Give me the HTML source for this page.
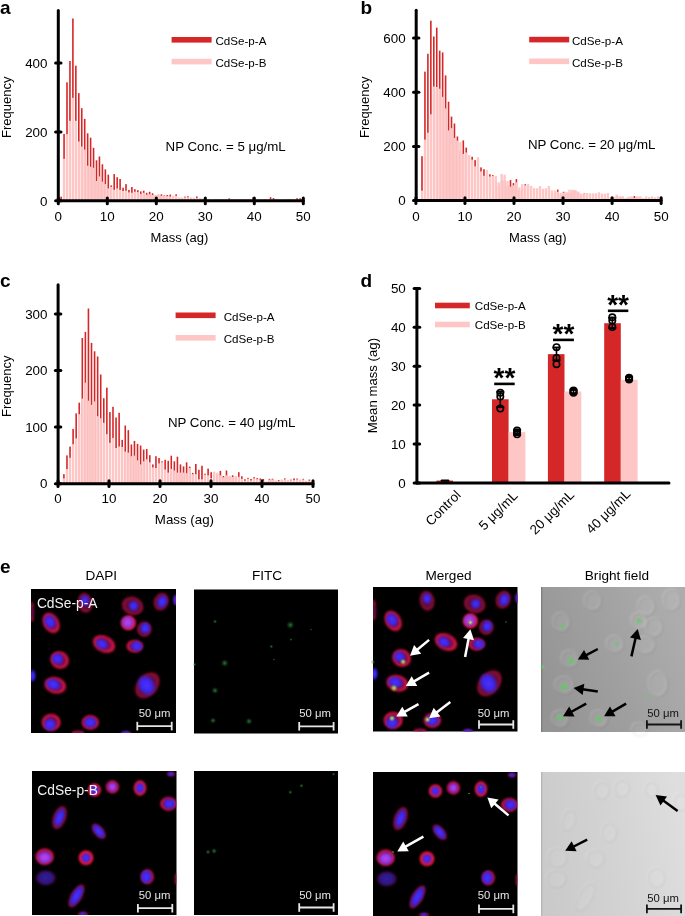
<!DOCTYPE html>
<html><head><meta charset="utf-8"><style>
html,body{margin:0;padding:0;background:#fff;overflow:hidden;}
svg{display:block;will-change:transform;}
text{font-family:"Liberation Sans", sans-serif;}
</style></head><body>
<svg width="685" height="916" viewBox="0 0 685 916" font-family="Liberation Sans, sans-serif">
<defs>
<filter id="bl1" x="-50%" y="-50%" width="200%" height="200%"><feGaussianBlur stdDeviation="1.0"/></filter>
<filter id="bl2" x="-50%" y="-50%" width="200%" height="200%"><feGaussianBlur stdDeviation="1.2"/></filter>
<filter id="bl4" x="-50%" y="-50%" width="200%" height="200%"><feGaussianBlur stdDeviation="1.1"/></filter>
<filter id="bl3" x="-50%" y="-50%" width="200%" height="200%"><feGaussianBlur stdDeviation="0.6"/></filter>
<radialGradient id="cyto">
 <stop offset="0" stop-color="#7a0a5a" stop-opacity="0.75"/>
 <stop offset="0.55" stop-color="#a00c52" stop-opacity="0.85"/>
 <stop offset="0.8" stop-color="#e41a46" stop-opacity="1"/>
 <stop offset="0.92" stop-color="#d01838" stop-opacity="0.6"/>
 <stop offset="1" stop-color="#600010" stop-opacity="0"/>
</radialGradient>
<radialGradient id="cytoDim">
 <stop offset="0" stop-color="#6a0a4a" stop-opacity="0.75"/>
 <stop offset="0.6" stop-color="#820c44" stop-opacity="0.8"/>
 <stop offset="0.85" stop-color="#b01438" stop-opacity="0.85"/>
 <stop offset="1" stop-color="#500010" stop-opacity="0"/>
</radialGradient>
<radialGradient id="cytoB">
 <stop offset="0" stop-color="#c01050" stop-opacity="0.9"/>
 <stop offset="0.55" stop-color="#e0143c" stop-opacity="1"/>
 <stop offset="0.82" stop-color="#ff2038" stop-opacity="1"/>
 <stop offset="0.93" stop-color="#d01830" stop-opacity="0.6"/>
 <stop offset="1" stop-color="#600010" stop-opacity="0"/>
</radialGradient>
<radialGradient id="cytoF">
 <stop offset="0" stop-color="#400830" stop-opacity="0.5"/>
 <stop offset="0.8" stop-color="#600a30" stop-opacity="0.6"/>
 <stop offset="1" stop-color="#400010" stop-opacity="0"/>
</radialGradient>
<radialGradient id="nucD">
 <stop offset="0" stop-color="#3424b0" stop-opacity="0.85"/>
 <stop offset="0.6" stop-color="#2c20a8" stop-opacity="0.75"/>
 <stop offset="1" stop-color="#2818a0" stop-opacity="0"/>
</radialGradient>
<radialGradient id="nuc">
 <stop offset="0" stop-color="#4a34f8"/>
 <stop offset="0.6" stop-color="#3a24f4" stop-opacity="0.97"/>
 <stop offset="1" stop-color="#3820b8" stop-opacity="0"/>
</radialGradient>
<radialGradient id="nucM">
 <stop offset="0" stop-color="#c048f0"/>
 <stop offset="0.65" stop-color="#9038e8" stop-opacity="0.95"/>
 <stop offset="1" stop-color="#6020c0" stop-opacity="0"/>
</radialGradient>
<radialGradient id="gdot">
 <stop offset="0" stop-color="#40e050"/>
 <stop offset="0.45" stop-color="#20a030" stop-opacity="0.75"/>
 <stop offset="1" stop-color="#108020" stop-opacity="0"/>
</radialGradient>
<radialGradient id="gblob">
 <stop offset="0" stop-color="#40d050" stop-opacity="0.6"/>
 <stop offset="0.5" stop-color="#30a040" stop-opacity="0.3"/>
 <stop offset="1" stop-color="#208030" stop-opacity="0"/>
</radialGradient>
<radialGradient id="gy">
 <stop offset="0" stop-color="#e0f070" stop-opacity="0.95"/>
 <stop offset="0.5" stop-color="#a0d040" stop-opacity="0.55"/>
 <stop offset="1" stop-color="#60a020" stop-opacity="0"/>
</radialGradient>
<radialGradient id="gbf">
 <stop offset="0" stop-color="#50d850" stop-opacity="0.85"/>
 <stop offset="0.5" stop-color="#68c868" stop-opacity="0.45"/>
 <stop offset="1" stop-color="#80c080" stop-opacity="0"/>
</radialGradient>
<radialGradient id="bfcell">
 <stop offset="0" stop-color="#fff" stop-opacity="0.03"/>
 <stop offset="0.75" stop-color="#fff" stop-opacity="0.08"/>
 <stop offset="0.92" stop-color="#fff" stop-opacity="0.16"/>
 <stop offset="1" stop-color="#fff" stop-opacity="0"/>
</radialGradient>
<linearGradient id="bf1" x1="0" y1="0.7" x2="1" y2="0.3">
 <stop offset="0" stop-color="#949494"/>
 <stop offset="0.5" stop-color="#a0a0a0"/>
 <stop offset="1" stop-color="#adadad"/>
</linearGradient>
<linearGradient id="bf2" x1="0" y1="0.6" x2="1" y2="0.4">
 <stop offset="0" stop-color="#cacaca"/>
 <stop offset="0.5" stop-color="#d3d3d3"/>
 <stop offset="1" stop-color="#dedede"/>
</linearGradient>
</defs>
<rect width="685" height="916" fill="#fff"/>
<rect x="60.30" y="196.70" width="1.6" height="4.10" fill="#d62728"/>
<rect x="63.25" y="133.90" width="1.6" height="66.90" fill="#d62728"/>
<rect x="62.88" y="158.80" width="2.35" height="42.00" fill="#ffc6c6"/>
<rect x="66.20" y="82.30" width="1.6" height="118.50" fill="#d62728"/>
<rect x="65.83" y="134.20" width="2.35" height="66.60" fill="#ffc6c6"/>
<rect x="69.15" y="61.00" width="1.6" height="139.80" fill="#d62728"/>
<rect x="68.78" y="120.80" width="2.35" height="80.00" fill="#ffc6c6"/>
<rect x="72.10" y="18.50" width="1.6" height="182.30" fill="#d62728"/>
<rect x="71.73" y="97.80" width="2.35" height="103.00" fill="#ffc6c6"/>
<rect x="75.05" y="65.70" width="1.6" height="135.10" fill="#d62728"/>
<rect x="74.67" y="120.80" width="2.35" height="80.00" fill="#ffc6c6"/>
<rect x="78.00" y="93.10" width="1.6" height="107.70" fill="#d62728"/>
<rect x="77.63" y="141.50" width="2.35" height="59.30" fill="#ffc6c6"/>
<rect x="80.95" y="108.20" width="1.6" height="92.60" fill="#d62728"/>
<rect x="80.58" y="146.50" width="2.35" height="54.30" fill="#ffc6c6"/>
<rect x="83.90" y="118.90" width="1.6" height="81.90" fill="#d62728"/>
<rect x="83.53" y="149.60" width="2.35" height="51.20" fill="#ffc6c6"/>
<rect x="86.85" y="133.30" width="1.6" height="67.50" fill="#d62728"/>
<rect x="86.48" y="165.70" width="2.35" height="35.10" fill="#ffc6c6"/>
<rect x="89.80" y="137.70" width="1.6" height="63.10" fill="#d62728"/>
<rect x="89.42" y="166.80" width="2.35" height="34.00" fill="#ffc6c6"/>
<rect x="92.75" y="147.80" width="1.6" height="53.00" fill="#d62728"/>
<rect x="92.38" y="167.80" width="2.35" height="33.00" fill="#ffc6c6"/>
<rect x="95.70" y="160.30" width="1.6" height="40.50" fill="#d62728"/>
<rect x="95.33" y="181.00" width="2.35" height="19.80" fill="#ffc6c6"/>
<rect x="98.65" y="156.50" width="1.6" height="44.30" fill="#d62728"/>
<rect x="98.28" y="176.40" width="2.35" height="24.40" fill="#ffc6c6"/>
<rect x="101.60" y="164.30" width="1.6" height="36.50" fill="#d62728"/>
<rect x="101.23" y="181.60" width="2.35" height="19.20" fill="#ffc6c6"/>
<rect x="104.55" y="169.30" width="1.6" height="31.50" fill="#d62728"/>
<rect x="104.17" y="184.10" width="2.35" height="16.70" fill="#ffc6c6"/>
<rect x="107.50" y="174.70" width="1.6" height="26.10" fill="#d62728"/>
<rect x="107.13" y="188.30" width="2.35" height="12.50" fill="#ffc6c6"/>
<rect x="110.45" y="185.40" width="1.6" height="15.40" fill="#d62728"/>
<rect x="110.08" y="186.90" width="2.35" height="13.90" fill="#ffc6c6"/>
<rect x="113.40" y="174.10" width="1.6" height="26.70" fill="#d62728"/>
<rect x="113.03" y="189.80" width="2.35" height="11.00" fill="#ffc6c6"/>
<rect x="116.35" y="177.20" width="1.6" height="23.60" fill="#d62728"/>
<rect x="115.98" y="188.50" width="2.35" height="12.30" fill="#ffc6c6"/>
<rect x="119.30" y="179.00" width="1.6" height="21.80" fill="#d62728"/>
<rect x="118.92" y="189.90" width="2.35" height="10.90" fill="#ffc6c6"/>
<rect x="122.25" y="187.70" width="1.6" height="13.10" fill="#d62728"/>
<rect x="121.88" y="191.00" width="2.35" height="9.80" fill="#ffc6c6"/>
<rect x="125.20" y="184.10" width="1.6" height="16.70" fill="#d62728"/>
<rect x="124.83" y="190.70" width="2.35" height="10.10" fill="#ffc6c6"/>
<rect x="128.15" y="189.90" width="1.6" height="10.90" fill="#d62728"/>
<rect x="127.78" y="192.40" width="2.35" height="8.40" fill="#ffc6c6"/>
<rect x="131.10" y="187.00" width="1.6" height="13.80" fill="#d62728"/>
<rect x="130.72" y="192.80" width="2.35" height="8.00" fill="#ffc6c6"/>
<rect x="134.05" y="189.20" width="1.6" height="11.60" fill="#d62728"/>
<rect x="133.67" y="191.80" width="2.35" height="9.00" fill="#ffc6c6"/>
<rect x="137.00" y="190.20" width="1.6" height="10.60" fill="#d62728"/>
<rect x="136.62" y="192.10" width="2.35" height="8.70" fill="#ffc6c6"/>
<rect x="139.95" y="191.40" width="1.6" height="9.40" fill="#d62728"/>
<rect x="139.57" y="193.90" width="2.35" height="6.90" fill="#ffc6c6"/>
<rect x="142.90" y="190.70" width="1.6" height="10.10" fill="#d62728"/>
<rect x="142.53" y="192.80" width="2.35" height="8.00" fill="#ffc6c6"/>
<rect x="145.85" y="192.80" width="1.6" height="8.00" fill="#d62728"/>
<rect x="145.47" y="194.70" width="2.35" height="6.10" fill="#ffc6c6"/>
<rect x="148.80" y="191.80" width="1.6" height="9.00" fill="#d62728"/>
<rect x="148.42" y="194.30" width="2.35" height="6.50" fill="#ffc6c6"/>
<rect x="151.75" y="193.30" width="1.6" height="7.50" fill="#d62728"/>
<rect x="151.38" y="195.00" width="2.35" height="5.80" fill="#ffc6c6"/>
<rect x="154.70" y="195.50" width="1.6" height="5.30" fill="#d62728"/>
<rect x="154.32" y="195.00" width="2.35" height="5.80" fill="#ffc6c6"/>
<rect x="157.65" y="194.70" width="1.6" height="6.10" fill="#d62728"/>
<rect x="157.28" y="195.00" width="2.35" height="5.80" fill="#ffc6c6"/>
<rect x="160.60" y="194.30" width="1.6" height="6.50" fill="#d62728"/>
<rect x="160.22" y="195.80" width="2.35" height="5.00" fill="#ffc6c6"/>
<rect x="163.55" y="195.30" width="1.6" height="5.50" fill="#d62728"/>
<rect x="163.17" y="195.80" width="2.35" height="5.00" fill="#ffc6c6"/>
<rect x="166.50" y="195.00" width="1.6" height="5.80" fill="#d62728"/>
<rect x="166.12" y="196.10" width="2.35" height="4.70" fill="#ffc6c6"/>
<rect x="169.45" y="194.60" width="1.6" height="6.20" fill="#d62728"/>
<rect x="169.07" y="196.50" width="2.35" height="4.30" fill="#ffc6c6"/>
<rect x="172.40" y="196.80" width="1.6" height="4.00" fill="#d62728"/>
<rect x="172.03" y="195.80" width="2.35" height="5.00" fill="#ffc6c6"/>
<rect x="175.35" y="194.30" width="1.6" height="6.50" fill="#d62728"/>
<rect x="174.97" y="195.80" width="2.35" height="5.00" fill="#ffc6c6"/>
<rect x="178.30" y="198.47" width="1.6" height="2.33" fill="#d62728"/>
<rect x="177.92" y="197.47" width="2.35" height="3.33" fill="#ffc6c6"/>
<rect x="181.25" y="198.49" width="1.6" height="2.31" fill="#d62728"/>
<rect x="180.88" y="197.49" width="2.35" height="3.31" fill="#ffc6c6"/>
<rect x="184.20" y="196.58" width="1.6" height="4.22" fill="#d62728"/>
<rect x="183.82" y="197.40" width="2.35" height="3.40" fill="#ffc6c6"/>
<rect x="187.15" y="196.26" width="1.6" height="4.54" fill="#d62728"/>
<rect x="186.78" y="197.34" width="2.35" height="3.46" fill="#ffc6c6"/>
<rect x="190.10" y="198.35" width="1.6" height="2.45" fill="#d62728"/>
<rect x="189.72" y="197.35" width="2.35" height="3.45" fill="#ffc6c6"/>
<rect x="193.05" y="198.66" width="1.6" height="2.14" fill="#d62728"/>
<rect x="192.67" y="197.66" width="2.35" height="3.14" fill="#ffc6c6"/>
<rect x="196.00" y="196.46" width="1.6" height="4.34" fill="#d62728"/>
<rect x="195.62" y="198.02" width="2.35" height="2.78" fill="#ffc6c6"/>
<rect x="198.95" y="198.95" width="1.6" height="1.85" fill="#d62728"/>
<rect x="198.57" y="197.95" width="2.35" height="2.85" fill="#ffc6c6"/>
<rect x="201.90" y="199.23" width="1.6" height="1.57" fill="#d62728"/>
<rect x="201.53" y="198.23" width="2.35" height="2.57" fill="#ffc6c6"/>
<rect x="204.85" y="200.06" width="1.6" height="0.74" fill="#d62728"/>
<rect x="204.47" y="199.56" width="2.35" height="1.24" fill="#ffc6c6"/>
<rect x="207.80" y="199.75" width="1.6" height="1.05" fill="#d62728"/>
<rect x="207.42" y="199.25" width="2.35" height="1.55" fill="#ffc6c6"/>
<rect x="210.75" y="200.08" width="1.6" height="0.72" fill="#d62728"/>
<rect x="210.38" y="199.58" width="2.35" height="1.22" fill="#ffc6c6"/>
<rect x="213.70" y="199.82" width="1.6" height="0.98" fill="#d62728"/>
<rect x="213.32" y="199.32" width="2.35" height="1.48" fill="#ffc6c6"/>
<rect x="216.65" y="199.57" width="1.6" height="1.23" fill="#d62728"/>
<rect x="216.28" y="199.07" width="2.35" height="1.73" fill="#ffc6c6"/>
<rect x="219.60" y="199.55" width="1.6" height="1.25" fill="#d62728"/>
<rect x="219.22" y="199.05" width="2.35" height="1.75" fill="#ffc6c6"/>
<rect x="222.55" y="199.62" width="1.6" height="1.18" fill="#d62728"/>
<rect x="222.17" y="199.12" width="2.35" height="1.68" fill="#ffc6c6"/>
<rect x="225.50" y="199.54" width="1.6" height="1.26" fill="#d62728"/>
<rect x="225.12" y="199.04" width="2.35" height="1.76" fill="#ffc6c6"/>
<rect x="228.45" y="198.32" width="1.6" height="2.48" fill="#d62728"/>
<rect x="228.07" y="199.54" width="2.35" height="1.26" fill="#ffc6c6"/>
<rect x="231.40" y="199.52" width="1.6" height="1.28" fill="#d62728"/>
<rect x="231.03" y="199.02" width="2.35" height="1.78" fill="#ffc6c6"/>
<rect x="234.35" y="199.72" width="1.6" height="1.08" fill="#d62728"/>
<rect x="233.97" y="199.22" width="2.35" height="1.58" fill="#ffc6c6"/>
<rect x="237.30" y="199.80" width="1.6" height="1.00" fill="#d62728"/>
<rect x="236.92" y="199.30" width="2.35" height="1.50" fill="#ffc6c6"/>
<rect x="240.25" y="199.89" width="1.6" height="0.91" fill="#d62728"/>
<rect x="239.88" y="199.39" width="2.35" height="1.41" fill="#ffc6c6"/>
<rect x="243.20" y="199.75" width="1.6" height="1.05" fill="#d62728"/>
<rect x="242.82" y="199.25" width="2.35" height="1.55" fill="#ffc6c6"/>
<rect x="246.15" y="199.69" width="1.6" height="1.11" fill="#d62728"/>
<rect x="245.78" y="199.19" width="2.35" height="1.61" fill="#ffc6c6"/>
<rect x="249.10" y="199.59" width="1.6" height="1.21" fill="#d62728"/>
<rect x="248.72" y="199.09" width="2.35" height="1.71" fill="#ffc6c6"/>
<rect x="252.05" y="197.34" width="1.6" height="3.46" fill="#d62728"/>
<rect x="251.67" y="199.20" width="2.35" height="1.60" fill="#ffc6c6"/>
<rect x="255.00" y="199.52" width="1.6" height="1.28" fill="#d62728"/>
<rect x="254.62" y="199.02" width="2.35" height="1.78" fill="#ffc6c6"/>
<rect x="257.95" y="199.76" width="1.6" height="1.04" fill="#d62728"/>
<rect x="257.57" y="199.26" width="2.35" height="1.54" fill="#ffc6c6"/>
<rect x="260.90" y="199.97" width="1.6" height="0.83" fill="#d62728"/>
<rect x="260.53" y="199.47" width="2.35" height="1.33" fill="#ffc6c6"/>
<rect x="263.85" y="199.76" width="1.6" height="1.04" fill="#d62728"/>
<rect x="263.48" y="199.26" width="2.35" height="1.54" fill="#ffc6c6"/>
<rect x="266.80" y="200.06" width="1.6" height="0.74" fill="#d62728"/>
<rect x="266.43" y="199.56" width="2.35" height="1.24" fill="#ffc6c6"/>
<rect x="269.75" y="197.21" width="1.6" height="3.59" fill="#d62728"/>
<rect x="269.38" y="199.01" width="2.35" height="1.79" fill="#ffc6c6"/>
<rect x="272.70" y="198.06" width="1.6" height="2.74" fill="#d62728"/>
<rect x="272.32" y="199.35" width="2.35" height="1.45" fill="#ffc6c6"/>
<rect x="275.65" y="199.64" width="1.6" height="1.16" fill="#d62728"/>
<rect x="275.28" y="199.14" width="2.35" height="1.66" fill="#ffc6c6"/>
<rect x="278.60" y="200.07" width="1.6" height="0.73" fill="#d62728"/>
<rect x="278.23" y="199.57" width="2.35" height="1.23" fill="#ffc6c6"/>
<rect x="281.55" y="200.07" width="1.6" height="0.73" fill="#d62728"/>
<rect x="281.18" y="199.57" width="2.35" height="1.23" fill="#ffc6c6"/>
<rect x="284.50" y="199.90" width="1.6" height="0.90" fill="#d62728"/>
<rect x="284.12" y="199.40" width="2.35" height="1.40" fill="#ffc6c6"/>
<rect x="287.45" y="199.51" width="1.6" height="1.29" fill="#d62728"/>
<rect x="287.07" y="199.01" width="2.35" height="1.79" fill="#ffc6c6"/>
<rect x="290.40" y="199.50" width="1.6" height="1.30" fill="#d62728"/>
<rect x="290.03" y="199.00" width="2.35" height="1.80" fill="#ffc6c6"/>
<rect x="293.35" y="200.05" width="1.6" height="0.75" fill="#d62728"/>
<rect x="292.98" y="199.55" width="2.35" height="1.25" fill="#ffc6c6"/>
<rect x="296.30" y="198.17" width="1.6" height="2.63" fill="#d62728"/>
<rect x="295.93" y="199.58" width="2.35" height="1.22" fill="#ffc6c6"/>
<rect x="299.25" y="198.19" width="1.6" height="2.61" fill="#d62728"/>
<rect x="298.88" y="199.23" width="2.35" height="1.57" fill="#ffc6c6"/>
<rect x="302.20" y="199.58" width="1.6" height="1.22" fill="#d62728"/>
<rect x="301.82" y="199.08" width="2.35" height="1.72" fill="#ffc6c6"/>
<g stroke="#000" stroke-width="3.0" stroke-linecap="round" fill="none">
<line x1="58.3" y1="10.5" x2="58.3" y2="200.8"/>
<line x1="58.3" y1="200.8" x2="303.2" y2="200.8"/>
<line x1="55.599999999999994" y1="200.8" x2="61.0" y2="200.8"/>
<line x1="55.599999999999994" y1="131.9" x2="61.0" y2="131.9"/>
<line x1="55.599999999999994" y1="63.0" x2="61.0" y2="63.0"/>
<line x1="58.3" y1="197.9" x2="58.3" y2="203.70000000000002"/>
<line x1="107.3" y1="197.9" x2="107.3" y2="203.70000000000002"/>
<line x1="156.3" y1="197.9" x2="156.3" y2="203.70000000000002"/>
<line x1="205.3" y1="197.9" x2="205.3" y2="203.70000000000002"/>
<line x1="254.3" y1="197.9" x2="254.3" y2="203.70000000000002"/>
<line x1="303.3" y1="197.9" x2="303.3" y2="203.70000000000002"/>
</g>
<text x="47.50" y="205.50" font-size="13.4" text-anchor="end" font-weight="normal" fill="#000" >0</text>
<text x="47.50" y="136.60" font-size="13.4" text-anchor="end" font-weight="normal" fill="#000" >200</text>
<text x="47.50" y="67.70" font-size="13.4" text-anchor="end" font-weight="normal" fill="#000" >400</text>
<text x="58.30" y="221.40" font-size="13.4" text-anchor="middle" font-weight="normal" fill="#000" >0</text>
<text x="107.30" y="221.40" font-size="13.4" text-anchor="middle" font-weight="normal" fill="#000" >10</text>
<text x="156.30" y="221.40" font-size="13.4" text-anchor="middle" font-weight="normal" fill="#000" >20</text>
<text x="205.30" y="221.40" font-size="13.4" text-anchor="middle" font-weight="normal" fill="#000" >30</text>
<text x="254.30" y="221.40" font-size="13.4" text-anchor="middle" font-weight="normal" fill="#000" >40</text>
<text x="303.30" y="221.40" font-size="13.4" text-anchor="middle" font-weight="normal" fill="#000" >50</text>
<text x="179.50" y="242.20" font-size="13" text-anchor="middle" font-weight="normal" fill="#000" >Mass (ag)</text>
<text x="10.80" y="107.20" font-size="13" text-anchor="middle" font-weight="normal" fill="#000" transform="rotate(-90 10.8 107.2)">Frequency</text>
<rect x="171.6" y="37" width="40" height="5.6" fill="#d62728"/>
<rect x="171.6" y="58.8" width="40" height="5.6" fill="#ffc6c6"/>
<text x="215.50" y="45.00" font-size="11.6" text-anchor="start" font-weight="normal" fill="#000" >CdSe-p-A</text>
<text x="215.50" y="66.80" font-size="11.6" text-anchor="start" font-weight="normal" fill="#000" >CdSe-p-B</text>
<text x="165.60" y="151.30" font-size="13.3" text-anchor="start" font-weight="normal" fill="#000" >NP Conc. = 5 μg/mL</text>
<text x="0.00" y="14.00" font-size="19" text-anchor="start" font-weight="bold" fill="#000" >a</text>
<rect x="421.20" y="156.20" width="1.6" height="44.40" fill="#d62728"/>
<rect x="420.82" y="190.60" width="2.35" height="10.00" fill="#ffc6c6"/>
<rect x="424.15" y="71.60" width="1.6" height="129.00" fill="#d62728"/>
<rect x="423.77" y="139.60" width="2.35" height="61.00" fill="#ffc6c6"/>
<rect x="427.10" y="53.80" width="1.6" height="146.80" fill="#d62728"/>
<rect x="426.72" y="132.70" width="2.35" height="67.90" fill="#ffc6c6"/>
<rect x="430.05" y="20.70" width="1.6" height="179.90" fill="#d62728"/>
<rect x="429.68" y="114.30" width="2.35" height="86.30" fill="#ffc6c6"/>
<rect x="433.00" y="36.50" width="1.6" height="164.10" fill="#d62728"/>
<rect x="432.62" y="86.50" width="2.35" height="114.10" fill="#ffc6c6"/>
<rect x="435.95" y="27.60" width="1.6" height="173.00" fill="#d62728"/>
<rect x="435.57" y="87.00" width="2.35" height="113.60" fill="#ffc6c6"/>
<rect x="438.90" y="50.70" width="1.6" height="149.90" fill="#d62728"/>
<rect x="438.52" y="88.70" width="2.35" height="111.90" fill="#ffc6c6"/>
<rect x="441.85" y="52.40" width="1.6" height="148.20" fill="#d62728"/>
<rect x="441.47" y="96.90" width="2.35" height="103.70" fill="#ffc6c6"/>
<rect x="444.80" y="75.40" width="1.6" height="125.20" fill="#d62728"/>
<rect x="444.43" y="108.40" width="2.35" height="92.20" fill="#ffc6c6"/>
<rect x="447.75" y="101.70" width="1.6" height="98.90" fill="#d62728"/>
<rect x="447.38" y="130.40" width="2.35" height="70.20" fill="#ffc6c6"/>
<rect x="450.70" y="116.60" width="1.6" height="84.00" fill="#d62728"/>
<rect x="450.32" y="128.10" width="2.35" height="72.50" fill="#ffc6c6"/>
<rect x="453.65" y="123.50" width="1.6" height="77.10" fill="#d62728"/>
<rect x="453.27" y="137.90" width="2.35" height="62.70" fill="#ffc6c6"/>
<rect x="456.60" y="136.50" width="1.6" height="64.10" fill="#d62728"/>
<rect x="456.22" y="140.70" width="2.35" height="59.90" fill="#ffc6c6"/>
<rect x="459.55" y="150.60" width="1.6" height="50.00" fill="#d62728"/>
<rect x="459.18" y="141.90" width="2.35" height="58.70" fill="#ffc6c6"/>
<rect x="462.50" y="140.40" width="1.6" height="60.20" fill="#d62728"/>
<rect x="462.12" y="153.90" width="2.35" height="46.70" fill="#ffc6c6"/>
<rect x="465.45" y="147.60" width="1.6" height="53.00" fill="#d62728"/>
<rect x="465.07" y="152.50" width="2.35" height="48.10" fill="#ffc6c6"/>
<rect x="468.40" y="160.60" width="1.6" height="40.00" fill="#d62728"/>
<rect x="468.02" y="155.10" width="2.35" height="45.50" fill="#ffc6c6"/>
<rect x="471.35" y="156.80" width="1.6" height="43.80" fill="#d62728"/>
<rect x="470.97" y="159.70" width="2.35" height="40.90" fill="#ffc6c6"/>
<rect x="474.30" y="160.10" width="1.6" height="40.50" fill="#d62728"/>
<rect x="473.93" y="166.30" width="2.35" height="34.30" fill="#ffc6c6"/>
<rect x="477.25" y="165.60" width="1.6" height="35.00" fill="#d62728"/>
<rect x="476.88" y="157.20" width="2.35" height="43.40" fill="#ffc6c6"/>
<rect x="480.20" y="167.40" width="1.6" height="33.20" fill="#d62728"/>
<rect x="479.82" y="171.40" width="2.35" height="29.20" fill="#ffc6c6"/>
<rect x="483.15" y="169.20" width="1.6" height="31.40" fill="#d62728"/>
<rect x="482.77" y="175.80" width="2.35" height="24.80" fill="#ffc6c6"/>
<rect x="486.10" y="175.60" width="1.6" height="25.00" fill="#d62728"/>
<rect x="485.72" y="169.90" width="2.35" height="30.70" fill="#ffc6c6"/>
<rect x="489.05" y="174.30" width="1.6" height="26.30" fill="#d62728"/>
<rect x="488.68" y="176.50" width="2.35" height="24.10" fill="#ffc6c6"/>
<rect x="492.00" y="175.00" width="1.6" height="25.60" fill="#d62728"/>
<rect x="491.62" y="175.80" width="2.35" height="24.80" fill="#ffc6c6"/>
<rect x="494.95" y="180.60" width="1.6" height="20.00" fill="#d62728"/>
<rect x="494.57" y="175.80" width="2.35" height="24.80" fill="#ffc6c6"/>
<rect x="497.90" y="185.60" width="1.6" height="15.00" fill="#d62728"/>
<rect x="497.52" y="182.30" width="2.35" height="18.30" fill="#ffc6c6"/>
<rect x="500.85" y="180.60" width="1.6" height="20.00" fill="#d62728"/>
<rect x="500.47" y="173.90" width="2.35" height="26.70" fill="#ffc6c6"/>
<rect x="503.80" y="180.60" width="1.6" height="20.00" fill="#d62728"/>
<rect x="503.43" y="174.70" width="2.35" height="25.90" fill="#ffc6c6"/>
<rect x="506.75" y="185.60" width="1.6" height="15.00" fill="#d62728"/>
<rect x="506.38" y="180.90" width="2.35" height="19.70" fill="#ffc6c6"/>
<rect x="509.70" y="180.10" width="1.6" height="20.50" fill="#d62728"/>
<rect x="509.32" y="186.70" width="2.35" height="13.90" fill="#ffc6c6"/>
<rect x="512.65" y="183.10" width="1.6" height="17.50" fill="#d62728"/>
<rect x="512.28" y="185.30" width="2.35" height="15.30" fill="#ffc6c6"/>
<rect x="515.60" y="179.10" width="1.6" height="21.50" fill="#d62728"/>
<rect x="515.23" y="182.30" width="2.35" height="18.30" fill="#ffc6c6"/>
<rect x="518.55" y="190.60" width="1.6" height="10.00" fill="#d62728"/>
<rect x="518.18" y="187.40" width="2.35" height="13.20" fill="#ffc6c6"/>
<rect x="521.50" y="188.60" width="1.6" height="12.00" fill="#d62728"/>
<rect x="521.12" y="184.10" width="2.35" height="16.50" fill="#ffc6c6"/>
<rect x="524.45" y="184.20" width="1.6" height="16.40" fill="#d62728"/>
<rect x="524.08" y="185.30" width="2.35" height="15.30" fill="#ffc6c6"/>
<rect x="527.40" y="188.60" width="1.6" height="12.00" fill="#d62728"/>
<rect x="527.03" y="184.10" width="2.35" height="16.50" fill="#ffc6c6"/>
<rect x="530.35" y="190.60" width="1.6" height="10.00" fill="#d62728"/>
<rect x="529.98" y="186.00" width="2.35" height="14.60" fill="#ffc6c6"/>
<rect x="533.30" y="191.60" width="1.6" height="9.00" fill="#d62728"/>
<rect x="532.93" y="188.20" width="2.35" height="12.40" fill="#ffc6c6"/>
<rect x="536.25" y="191.60" width="1.6" height="9.00" fill="#d62728"/>
<rect x="535.88" y="188.20" width="2.35" height="12.40" fill="#ffc6c6"/>
<rect x="539.20" y="190.60" width="1.6" height="10.00" fill="#d62728"/>
<rect x="538.83" y="186.00" width="2.35" height="14.60" fill="#ffc6c6"/>
<rect x="542.15" y="192.60" width="1.6" height="8.00" fill="#d62728"/>
<rect x="541.78" y="188.90" width="2.35" height="11.70" fill="#ffc6c6"/>
<rect x="545.10" y="191.60" width="1.6" height="9.00" fill="#d62728"/>
<rect x="544.73" y="188.20" width="2.35" height="12.40" fill="#ffc6c6"/>
<rect x="548.05" y="190.60" width="1.6" height="10.00" fill="#d62728"/>
<rect x="547.68" y="186.00" width="2.35" height="14.60" fill="#ffc6c6"/>
<rect x="551.00" y="193.60" width="1.6" height="7.00" fill="#d62728"/>
<rect x="550.62" y="190.40" width="2.35" height="10.20" fill="#ffc6c6"/>
<rect x="553.95" y="193.60" width="1.6" height="7.00" fill="#d62728"/>
<rect x="553.58" y="190.40" width="2.35" height="10.20" fill="#ffc6c6"/>
<rect x="556.90" y="189.60" width="1.6" height="11.00" fill="#d62728"/>
<rect x="556.53" y="191.80" width="2.35" height="8.80" fill="#ffc6c6"/>
<rect x="559.85" y="194.60" width="1.6" height="6.00" fill="#d62728"/>
<rect x="559.48" y="192.80" width="2.35" height="7.80" fill="#ffc6c6"/>
<rect x="562.80" y="191.80" width="1.6" height="8.80" fill="#d62728"/>
<rect x="562.43" y="192.60" width="2.35" height="8.00" fill="#ffc6c6"/>
<rect x="565.75" y="193.60" width="1.6" height="7.00" fill="#d62728"/>
<rect x="565.38" y="191.80" width="2.35" height="8.80" fill="#ffc6c6"/>
<rect x="568.70" y="192.60" width="1.6" height="8.00" fill="#d62728"/>
<rect x="568.33" y="189.60" width="2.35" height="11.00" fill="#ffc6c6"/>
<rect x="571.65" y="190.72" width="1.6" height="9.88" fill="#d62728"/>
<rect x="571.28" y="189.72" width="2.35" height="10.88" fill="#ffc6c6"/>
<rect x="574.60" y="190.91" width="1.6" height="9.69" fill="#d62728"/>
<rect x="574.23" y="189.91" width="2.35" height="10.69" fill="#ffc6c6"/>
<rect x="577.55" y="192.47" width="1.6" height="8.13" fill="#d62728"/>
<rect x="577.18" y="191.47" width="2.35" height="9.13" fill="#ffc6c6"/>
<rect x="580.50" y="194.72" width="1.6" height="5.88" fill="#d62728"/>
<rect x="580.12" y="193.72" width="2.35" height="6.88" fill="#ffc6c6"/>
<rect x="583.45" y="193.40" width="1.6" height="7.20" fill="#d62728"/>
<rect x="583.08" y="193.54" width="2.35" height="7.06" fill="#ffc6c6"/>
<rect x="586.40" y="194.17" width="1.6" height="6.43" fill="#d62728"/>
<rect x="586.03" y="193.17" width="2.35" height="7.43" fill="#ffc6c6"/>
<rect x="589.35" y="194.31" width="1.6" height="6.29" fill="#d62728"/>
<rect x="588.98" y="193.31" width="2.35" height="7.29" fill="#ffc6c6"/>
<rect x="592.30" y="194.42" width="1.6" height="6.18" fill="#d62728"/>
<rect x="591.93" y="193.42" width="2.35" height="7.18" fill="#ffc6c6"/>
<rect x="595.25" y="194.10" width="1.6" height="6.50" fill="#d62728"/>
<rect x="594.88" y="193.24" width="2.35" height="7.36" fill="#ffc6c6"/>
<rect x="598.20" y="193.28" width="1.6" height="7.32" fill="#d62728"/>
<rect x="597.83" y="192.28" width="2.35" height="8.32" fill="#ffc6c6"/>
<rect x="601.15" y="194.58" width="1.6" height="6.02" fill="#d62728"/>
<rect x="600.78" y="193.58" width="2.35" height="7.02" fill="#ffc6c6"/>
<rect x="604.10" y="194.81" width="1.6" height="5.79" fill="#d62728"/>
<rect x="603.73" y="193.81" width="2.35" height="6.79" fill="#ffc6c6"/>
<rect x="607.05" y="193.94" width="1.6" height="6.66" fill="#d62728"/>
<rect x="606.68" y="192.94" width="2.35" height="7.66" fill="#ffc6c6"/>
<rect x="610.00" y="197.90" width="1.6" height="2.70" fill="#d62728"/>
<rect x="609.62" y="196.90" width="2.35" height="3.70" fill="#ffc6c6"/>
<rect x="612.95" y="197.77" width="1.6" height="2.83" fill="#d62728"/>
<rect x="612.58" y="196.77" width="2.35" height="3.83" fill="#ffc6c6"/>
<rect x="615.90" y="195.80" width="1.6" height="4.80" fill="#d62728"/>
<rect x="615.53" y="194.80" width="2.35" height="5.80" fill="#ffc6c6"/>
<rect x="618.85" y="197.23" width="1.6" height="3.37" fill="#d62728"/>
<rect x="618.48" y="196.23" width="2.35" height="4.37" fill="#ffc6c6"/>
<rect x="621.80" y="197.21" width="1.6" height="3.39" fill="#d62728"/>
<rect x="621.43" y="196.21" width="2.35" height="4.39" fill="#ffc6c6"/>
<rect x="624.75" y="198.88" width="1.6" height="1.72" fill="#d62728"/>
<rect x="624.38" y="197.88" width="2.35" height="2.72" fill="#ffc6c6"/>
<rect x="627.70" y="197.72" width="1.6" height="2.88" fill="#d62728"/>
<rect x="627.33" y="196.72" width="2.35" height="3.88" fill="#ffc6c6"/>
<rect x="630.65" y="197.29" width="1.6" height="3.31" fill="#d62728"/>
<rect x="630.28" y="196.29" width="2.35" height="4.31" fill="#ffc6c6"/>
<rect x="633.60" y="196.00" width="1.6" height="4.60" fill="#d62728"/>
<rect x="633.23" y="198.03" width="2.35" height="2.57" fill="#ffc6c6"/>
<rect x="636.55" y="197.30" width="1.6" height="3.30" fill="#d62728"/>
<rect x="636.18" y="196.30" width="2.35" height="4.30" fill="#ffc6c6"/>
<rect x="639.50" y="197.31" width="1.6" height="3.29" fill="#d62728"/>
<rect x="639.12" y="196.31" width="2.35" height="4.29" fill="#ffc6c6"/>
<rect x="642.45" y="199.08" width="1.6" height="1.52" fill="#d62728"/>
<rect x="642.08" y="198.08" width="2.35" height="2.52" fill="#ffc6c6"/>
<rect x="645.40" y="197.44" width="1.6" height="3.16" fill="#d62728"/>
<rect x="645.03" y="196.44" width="2.35" height="4.16" fill="#ffc6c6"/>
<rect x="648.35" y="197.98" width="1.6" height="2.62" fill="#d62728"/>
<rect x="647.98" y="196.98" width="2.35" height="3.62" fill="#ffc6c6"/>
<rect x="651.30" y="197.40" width="1.6" height="3.20" fill="#d62728"/>
<rect x="650.93" y="196.40" width="2.35" height="4.20" fill="#ffc6c6"/>
<rect x="654.25" y="198.44" width="1.6" height="2.16" fill="#d62728"/>
<rect x="653.88" y="197.44" width="2.35" height="3.16" fill="#ffc6c6"/>
<rect x="657.20" y="197.44" width="1.6" height="3.16" fill="#d62728"/>
<rect x="656.83" y="196.44" width="2.35" height="4.16" fill="#ffc6c6"/>
<rect x="660.15" y="197.40" width="1.6" height="3.20" fill="#d62728"/>
<rect x="659.78" y="196.40" width="2.35" height="4.20" fill="#ffc6c6"/>
<g stroke="#000" stroke-width="3.0" stroke-linecap="round" fill="none">
<line x1="416.2" y1="10.2" x2="416.2" y2="200.6"/>
<line x1="416.2" y1="200.6" x2="661.1" y2="200.6"/>
<line x1="413.5" y1="200.6" x2="418.9" y2="200.6"/>
<line x1="413.5" y1="146.4" x2="418.9" y2="146.4"/>
<line x1="413.5" y1="92.2" x2="418.9" y2="92.2"/>
<line x1="413.5" y1="38.0" x2="418.9" y2="38.0"/>
<line x1="415.9" y1="197.7" x2="415.9" y2="203.5"/>
<line x1="464.95" y1="197.7" x2="464.95" y2="203.5"/>
<line x1="514.0" y1="197.7" x2="514.0" y2="203.5"/>
<line x1="563.05" y1="197.7" x2="563.05" y2="203.5"/>
<line x1="612.0999999999999" y1="197.7" x2="612.0999999999999" y2="203.5"/>
<line x1="661.15" y1="197.7" x2="661.15" y2="203.5"/>
</g>
<text x="405.70" y="205.30" font-size="13.4" text-anchor="end" font-weight="normal" fill="#000" >0</text>
<text x="405.70" y="151.10" font-size="13.4" text-anchor="end" font-weight="normal" fill="#000" >200</text>
<text x="405.70" y="96.90" font-size="13.4" text-anchor="end" font-weight="normal" fill="#000" >400</text>
<text x="405.70" y="42.70" font-size="13.4" text-anchor="end" font-weight="normal" fill="#000" >600</text>
<text x="415.90" y="221.40" font-size="13.4" text-anchor="middle" font-weight="normal" fill="#000" >0</text>
<text x="464.95" y="221.40" font-size="13.4" text-anchor="middle" font-weight="normal" fill="#000" >10</text>
<text x="514.00" y="221.40" font-size="13.4" text-anchor="middle" font-weight="normal" fill="#000" >20</text>
<text x="563.05" y="221.40" font-size="13.4" text-anchor="middle" font-weight="normal" fill="#000" >30</text>
<text x="612.10" y="221.40" font-size="13.4" text-anchor="middle" font-weight="normal" fill="#000" >40</text>
<text x="661.15" y="221.40" font-size="13.4" text-anchor="middle" font-weight="normal" fill="#000" >50</text>
<text x="537.80" y="242.20" font-size="13" text-anchor="middle" font-weight="normal" fill="#000" >Mass (ag)</text>
<text x="368.80" y="107.20" font-size="13" text-anchor="middle" font-weight="normal" fill="#000" transform="rotate(-90 368.8 107.2)">Frequency</text>
<rect x="529.2" y="36.8" width="40" height="5.6" fill="#d62728"/>
<rect x="529.2" y="58.5" width="40" height="5.6" fill="#ffc6c6"/>
<text x="572.00" y="44.80" font-size="11.6" text-anchor="start" font-weight="normal" fill="#000" >CdSe-p-A</text>
<text x="572.00" y="66.50" font-size="11.6" text-anchor="start" font-weight="normal" fill="#000" >CdSe-p-B</text>
<text x="527.90" y="149.00" font-size="13.3" text-anchor="start" font-weight="normal" fill="#000" >NP Conc. = 20 μg/mL</text>
<text x="360.60" y="13.90" font-size="19" text-anchor="start" font-weight="bold" fill="#000" >b</text>
<rect x="63.10" y="474.10" width="1.6" height="9.60" fill="#d62728"/>
<rect x="62.73" y="478.40" width="2.35" height="5.30" fill="#ffc6c6"/>
<rect x="66.17" y="455.40" width="1.6" height="28.30" fill="#d62728"/>
<rect x="65.79" y="469.00" width="2.35" height="14.70" fill="#ffc6c6"/>
<rect x="69.24" y="446.60" width="1.6" height="37.10" fill="#d62728"/>
<rect x="68.86" y="457.80" width="2.35" height="25.90" fill="#ffc6c6"/>
<rect x="72.30" y="428.90" width="1.6" height="54.80" fill="#d62728"/>
<rect x="71.93" y="444.20" width="2.35" height="39.50" fill="#ffc6c6"/>
<rect x="75.37" y="413.40" width="1.6" height="70.30" fill="#d62728"/>
<rect x="75.00" y="438.40" width="2.35" height="45.30" fill="#ffc6c6"/>
<rect x="78.44" y="402.70" width="1.6" height="81.00" fill="#d62728"/>
<rect x="78.06" y="414.20" width="2.35" height="69.50" fill="#ffc6c6"/>
<rect x="81.51" y="338.00" width="1.6" height="145.70" fill="#d62728"/>
<rect x="81.13" y="398.60" width="2.35" height="85.10" fill="#ffc6c6"/>
<rect x="84.58" y="331.90" width="1.6" height="151.80" fill="#d62728"/>
<rect x="84.20" y="382.70" width="2.35" height="101.00" fill="#ffc6c6"/>
<rect x="87.64" y="308.50" width="1.6" height="175.20" fill="#d62728"/>
<rect x="87.27" y="400.70" width="2.35" height="83.00" fill="#ffc6c6"/>
<rect x="90.71" y="342.90" width="1.6" height="140.80" fill="#d62728"/>
<rect x="90.34" y="404.80" width="2.35" height="78.90" fill="#ffc6c6"/>
<rect x="93.78" y="351.30" width="1.6" height="132.40" fill="#d62728"/>
<rect x="93.41" y="401.50" width="2.35" height="82.20" fill="#ffc6c6"/>
<rect x="96.85" y="356.50" width="1.6" height="127.20" fill="#d62728"/>
<rect x="96.47" y="416.20" width="2.35" height="67.50" fill="#ffc6c6"/>
<rect x="99.92" y="374.50" width="1.6" height="109.20" fill="#d62728"/>
<rect x="99.54" y="418.30" width="2.35" height="65.40" fill="#ffc6c6"/>
<rect x="102.98" y="398.20" width="1.6" height="85.50" fill="#d62728"/>
<rect x="102.61" y="422.80" width="2.35" height="60.90" fill="#ffc6c6"/>
<rect x="106.05" y="387.60" width="1.6" height="96.10" fill="#d62728"/>
<rect x="105.68" y="434.20" width="2.35" height="49.50" fill="#ffc6c6"/>
<rect x="109.12" y="412.10" width="1.6" height="71.60" fill="#d62728"/>
<rect x="108.75" y="442.80" width="2.35" height="40.90" fill="#ffc6c6"/>
<rect x="112.19" y="406.80" width="1.6" height="76.90" fill="#d62728"/>
<rect x="111.81" y="437.90" width="2.35" height="45.80" fill="#ffc6c6"/>
<rect x="115.26" y="417.50" width="1.6" height="66.20" fill="#d62728"/>
<rect x="114.88" y="448.00" width="2.35" height="35.70" fill="#ffc6c6"/>
<rect x="118.32" y="412.80" width="1.6" height="70.90" fill="#d62728"/>
<rect x="117.95" y="446.50" width="2.35" height="37.20" fill="#ffc6c6"/>
<rect x="121.39" y="439.90" width="1.6" height="43.80" fill="#d62728"/>
<rect x="121.02" y="447.00" width="2.35" height="36.70" fill="#ffc6c6"/>
<rect x="124.46" y="425.50" width="1.6" height="58.20" fill="#d62728"/>
<rect x="124.08" y="451.60" width="2.35" height="32.10" fill="#ffc6c6"/>
<rect x="127.53" y="430.10" width="1.6" height="53.60" fill="#d62728"/>
<rect x="127.15" y="452.60" width="2.35" height="31.10" fill="#ffc6c6"/>
<rect x="130.60" y="444.50" width="1.6" height="39.20" fill="#d62728"/>
<rect x="130.22" y="456.20" width="2.35" height="27.50" fill="#ffc6c6"/>
<rect x="133.66" y="440.90" width="1.6" height="42.80" fill="#d62728"/>
<rect x="133.29" y="455.70" width="2.35" height="28.00" fill="#ffc6c6"/>
<rect x="136.73" y="443.90" width="1.6" height="39.80" fill="#d62728"/>
<rect x="136.36" y="460.30" width="2.35" height="23.40" fill="#ffc6c6"/>
<rect x="139.80" y="445.50" width="1.6" height="38.20" fill="#d62728"/>
<rect x="139.42" y="464.40" width="2.35" height="19.30" fill="#ffc6c6"/>
<rect x="142.87" y="449.60" width="1.6" height="34.10" fill="#d62728"/>
<rect x="142.49" y="461.30" width="2.35" height="22.40" fill="#ffc6c6"/>
<rect x="145.94" y="449.00" width="1.6" height="34.70" fill="#d62728"/>
<rect x="145.56" y="459.30" width="2.35" height="24.40" fill="#ffc6c6"/>
<rect x="149.00" y="455.20" width="1.6" height="28.50" fill="#d62728"/>
<rect x="148.63" y="462.30" width="2.35" height="21.40" fill="#ffc6c6"/>
<rect x="152.07" y="464.40" width="1.6" height="19.30" fill="#d62728"/>
<rect x="151.70" y="467.40" width="2.35" height="16.30" fill="#ffc6c6"/>
<rect x="155.14" y="456.20" width="1.6" height="27.50" fill="#d62728"/>
<rect x="154.76" y="468.00" width="2.35" height="15.70" fill="#ffc6c6"/>
<rect x="158.21" y="458.00" width="1.6" height="25.70" fill="#d62728"/>
<rect x="157.83" y="463.40" width="2.35" height="20.30" fill="#ffc6c6"/>
<rect x="161.28" y="461.30" width="1.6" height="22.40" fill="#d62728"/>
<rect x="160.90" y="462.30" width="2.35" height="21.40" fill="#ffc6c6"/>
<rect x="164.34" y="459.80" width="1.6" height="23.90" fill="#d62728"/>
<rect x="163.97" y="469.50" width="2.35" height="14.20" fill="#ffc6c6"/>
<rect x="167.41" y="460.80" width="1.6" height="22.90" fill="#d62728"/>
<rect x="167.04" y="472.60" width="2.35" height="11.10" fill="#ffc6c6"/>
<rect x="170.48" y="455.70" width="1.6" height="28.00" fill="#d62728"/>
<rect x="170.10" y="469.00" width="2.35" height="14.70" fill="#ffc6c6"/>
<rect x="173.55" y="461.30" width="1.6" height="22.40" fill="#d62728"/>
<rect x="173.17" y="470.50" width="2.35" height="13.20" fill="#ffc6c6"/>
<rect x="176.62" y="456.70" width="1.6" height="27.00" fill="#d62728"/>
<rect x="176.24" y="472.60" width="2.35" height="11.10" fill="#ffc6c6"/>
<rect x="179.68" y="464.40" width="1.6" height="19.30" fill="#d62728"/>
<rect x="179.31" y="472.60" width="2.35" height="11.10" fill="#ffc6c6"/>
<rect x="182.75" y="466.40" width="1.6" height="17.30" fill="#d62728"/>
<rect x="182.38" y="472.60" width="2.35" height="11.10" fill="#ffc6c6"/>
<rect x="185.82" y="462.30" width="1.6" height="21.40" fill="#d62728"/>
<rect x="185.44" y="473.20" width="2.35" height="10.50" fill="#ffc6c6"/>
<rect x="188.89" y="466.60" width="1.6" height="17.10" fill="#d62728"/>
<rect x="188.51" y="468.10" width="2.35" height="15.60" fill="#ffc6c6"/>
<rect x="191.96" y="472.90" width="1.6" height="10.80" fill="#d62728"/>
<rect x="191.58" y="474.20" width="2.35" height="9.50" fill="#ffc6c6"/>
<rect x="195.02" y="464.00" width="1.6" height="19.70" fill="#d62728"/>
<rect x="194.65" y="474.20" width="2.35" height="9.50" fill="#ffc6c6"/>
<rect x="198.09" y="469.80" width="1.6" height="13.90" fill="#d62728"/>
<rect x="197.72" y="479.30" width="2.35" height="4.40" fill="#ffc6c6"/>
<rect x="201.16" y="465.80" width="1.6" height="17.90" fill="#d62728"/>
<rect x="200.78" y="479.30" width="2.35" height="4.40" fill="#ffc6c6"/>
<rect x="204.23" y="473.70" width="1.6" height="10.00" fill="#d62728"/>
<rect x="203.85" y="474.70" width="2.35" height="9.00" fill="#ffc6c6"/>
<rect x="207.30" y="468.60" width="1.6" height="15.10" fill="#d62728"/>
<rect x="206.92" y="475.30" width="2.35" height="8.40" fill="#ffc6c6"/>
<rect x="210.36" y="472.20" width="1.6" height="11.50" fill="#d62728"/>
<rect x="209.99" y="478.30" width="2.35" height="5.40" fill="#ffc6c6"/>
<rect x="213.43" y="473.70" width="1.6" height="10.00" fill="#d62728"/>
<rect x="213.06" y="471.70" width="2.35" height="12.00" fill="#ffc6c6"/>
<rect x="216.50" y="474.70" width="1.6" height="9.00" fill="#d62728"/>
<rect x="216.12" y="472.70" width="2.35" height="11.00" fill="#ffc6c6"/>
<rect x="219.57" y="470.90" width="1.6" height="12.80" fill="#d62728"/>
<rect x="219.19" y="475.30" width="2.35" height="8.40" fill="#ffc6c6"/>
<rect x="222.64" y="476.00" width="1.6" height="7.70" fill="#d62728"/>
<rect x="222.26" y="477.30" width="2.35" height="6.40" fill="#ffc6c6"/>
<rect x="225.70" y="470.50" width="1.6" height="13.20" fill="#d62728"/>
<rect x="225.33" y="475.30" width="2.35" height="8.40" fill="#ffc6c6"/>
<rect x="228.77" y="476.70" width="1.6" height="7.00" fill="#d62728"/>
<rect x="228.40" y="475.80" width="2.35" height="7.90" fill="#ffc6c6"/>
<rect x="231.84" y="475.30" width="1.6" height="8.40" fill="#d62728"/>
<rect x="231.47" y="477.00" width="2.35" height="6.70" fill="#ffc6c6"/>
<rect x="234.91" y="476.70" width="1.6" height="7.00" fill="#d62728"/>
<rect x="234.53" y="476.30" width="2.35" height="7.40" fill="#ffc6c6"/>
<rect x="237.98" y="472.20" width="1.6" height="11.50" fill="#d62728"/>
<rect x="237.60" y="476.80" width="2.35" height="6.90" fill="#ffc6c6"/>
<rect x="241.04" y="476.30" width="1.6" height="7.40" fill="#d62728"/>
<rect x="240.67" y="478.80" width="2.35" height="4.90" fill="#ffc6c6"/>
<rect x="244.11" y="479.30" width="1.6" height="4.40" fill="#d62728"/>
<rect x="243.74" y="480.70" width="2.35" height="3.00" fill="#ffc6c6"/>
<rect x="247.18" y="477.80" width="1.6" height="5.90" fill="#d62728"/>
<rect x="246.81" y="478.80" width="2.35" height="4.90" fill="#ffc6c6"/>
<rect x="250.25" y="478.94" width="1.6" height="4.76" fill="#d62728"/>
<rect x="249.87" y="480.45" width="2.35" height="3.25" fill="#ffc6c6"/>
<rect x="253.32" y="477.20" width="1.6" height="6.50" fill="#d62728"/>
<rect x="252.94" y="478.38" width="2.35" height="5.32" fill="#ffc6c6"/>
<rect x="256.38" y="478.15" width="1.6" height="5.55" fill="#d62728"/>
<rect x="256.01" y="479.20" width="2.35" height="4.50" fill="#ffc6c6"/>
<rect x="259.45" y="478.42" width="1.6" height="5.28" fill="#d62728"/>
<rect x="259.08" y="479.81" width="2.35" height="3.89" fill="#ffc6c6"/>
<rect x="262.52" y="478.98" width="1.6" height="4.72" fill="#d62728"/>
<rect x="262.14" y="480.64" width="2.35" height="3.06" fill="#ffc6c6"/>
<rect x="265.59" y="482.24" width="1.6" height="1.46" fill="#d62728"/>
<rect x="265.21" y="481.24" width="2.35" height="2.46" fill="#ffc6c6"/>
<rect x="268.66" y="478.85" width="1.6" height="4.85" fill="#d62728"/>
<rect x="268.28" y="479.68" width="2.35" height="4.02" fill="#ffc6c6"/>
<rect x="271.72" y="478.75" width="1.6" height="4.95" fill="#d62728"/>
<rect x="271.35" y="479.53" width="2.35" height="4.17" fill="#ffc6c6"/>
<rect x="274.79" y="481.34" width="1.6" height="2.36" fill="#d62728"/>
<rect x="274.42" y="480.34" width="2.35" height="3.36" fill="#ffc6c6"/>
<rect x="277.86" y="480.08" width="1.6" height="3.62" fill="#d62728"/>
<rect x="277.48" y="481.08" width="2.35" height="2.62" fill="#ffc6c6"/>
<rect x="280.93" y="480.47" width="1.6" height="3.23" fill="#d62728"/>
<rect x="280.55" y="479.47" width="2.35" height="4.23" fill="#ffc6c6"/>
<rect x="284.00" y="478.41" width="1.6" height="5.29" fill="#d62728"/>
<rect x="283.62" y="479.42" width="2.35" height="4.28" fill="#ffc6c6"/>
<rect x="287.06" y="480.87" width="1.6" height="2.83" fill="#d62728"/>
<rect x="286.69" y="479.87" width="2.35" height="3.83" fill="#ffc6c6"/>
<rect x="290.13" y="479.63" width="1.6" height="4.07" fill="#d62728"/>
<rect x="289.76" y="480.31" width="2.35" height="3.39" fill="#ffc6c6"/>
<rect x="293.20" y="478.42" width="1.6" height="5.28" fill="#d62728"/>
<rect x="292.82" y="480.13" width="2.35" height="3.57" fill="#ffc6c6"/>
<rect x="296.27" y="478.54" width="1.6" height="5.16" fill="#d62728"/>
<rect x="295.89" y="479.46" width="2.35" height="4.24" fill="#ffc6c6"/>
<rect x="299.34" y="480.52" width="1.6" height="3.18" fill="#d62728"/>
<rect x="298.96" y="479.52" width="2.35" height="4.18" fill="#ffc6c6"/>
<rect x="302.40" y="478.83" width="1.6" height="4.87" fill="#d62728"/>
<rect x="302.03" y="479.53" width="2.35" height="4.17" fill="#ffc6c6"/>
<rect x="305.47" y="481.66" width="1.6" height="2.04" fill="#d62728"/>
<rect x="305.10" y="480.66" width="2.35" height="3.04" fill="#ffc6c6"/>
<rect x="308.54" y="479.58" width="1.6" height="4.12" fill="#d62728"/>
<rect x="308.16" y="480.70" width="2.35" height="3.00" fill="#ffc6c6"/>
<g stroke="#000" stroke-width="3.0" stroke-linecap="round" fill="none">
<line x1="58.1" y1="284.8" x2="58.1" y2="483.7"/>
<line x1="58.1" y1="483.7" x2="313.1" y2="483.7"/>
<line x1="55.4" y1="483.7" x2="60.800000000000004" y2="483.7"/>
<line x1="55.4" y1="427.1" x2="60.800000000000004" y2="427.1"/>
<line x1="55.4" y1="370.5" x2="60.800000000000004" y2="370.5"/>
<line x1="55.4" y1="314.0" x2="60.800000000000004" y2="314.0"/>
<line x1="58.0" y1="480.8" x2="58.0" y2="486.59999999999997"/>
<line x1="109.0" y1="480.8" x2="109.0" y2="486.59999999999997"/>
<line x1="160.0" y1="480.8" x2="160.0" y2="486.59999999999997"/>
<line x1="211.0" y1="480.8" x2="211.0" y2="486.59999999999997"/>
<line x1="262.0" y1="480.8" x2="262.0" y2="486.59999999999997"/>
<line x1="313.0" y1="480.8" x2="313.0" y2="486.59999999999997"/>
</g>
<text x="47.50" y="488.40" font-size="13.4" text-anchor="end" font-weight="normal" fill="#000" >0</text>
<text x="47.50" y="431.80" font-size="13.4" text-anchor="end" font-weight="normal" fill="#000" >100</text>
<text x="47.50" y="375.20" font-size="13.4" text-anchor="end" font-weight="normal" fill="#000" >200</text>
<text x="47.50" y="318.70" font-size="13.4" text-anchor="end" font-weight="normal" fill="#000" >300</text>
<text x="58.00" y="502.80" font-size="13.4" text-anchor="middle" font-weight="normal" fill="#000" >0</text>
<text x="109.00" y="502.80" font-size="13.4" text-anchor="middle" font-weight="normal" fill="#000" >10</text>
<text x="160.00" y="502.80" font-size="13.4" text-anchor="middle" font-weight="normal" fill="#000" >20</text>
<text x="211.00" y="502.80" font-size="13.4" text-anchor="middle" font-weight="normal" fill="#000" >30</text>
<text x="262.00" y="502.80" font-size="13.4" text-anchor="middle" font-weight="normal" fill="#000" >40</text>
<text x="313.00" y="502.80" font-size="13.4" text-anchor="middle" font-weight="normal" fill="#000" >50</text>
<text x="184.40" y="523.80" font-size="13.3" text-anchor="middle" font-weight="normal" fill="#000" >Mass (ag)</text>
<text x="10.80" y="386.30" font-size="13" text-anchor="middle" font-weight="normal" fill="#000" transform="rotate(-90 10.8 386.3)">Frequency</text>
<rect x="175.6" y="312.5" width="40" height="5.6" fill="#d62728"/>
<rect x="175.6" y="335" width="40" height="5.6" fill="#ffc6c6"/>
<text x="223.70" y="320.50" font-size="11.6" text-anchor="start" font-weight="normal" fill="#000" >CdSe-p-A</text>
<text x="223.70" y="343.00" font-size="11.6" text-anchor="start" font-weight="normal" fill="#000" >CdSe-p-B</text>
<text x="167.90" y="427.00" font-size="13.3" text-anchor="start" font-weight="normal" fill="#000" >NP Conc. = 40 μg/mL</text>
<text x="0.00" y="287.40" font-size="19" text-anchor="start" font-weight="bold" fill="#000" >c</text>
<rect x="436.4" y="480.57" width="16.6" height="2.33" fill="#d62728"/>
<rect x="492.0" y="399.26" width="16.6" height="83.64" fill="#d62728"/>
<rect x="508.6" y="432.14" width="16.8" height="50.76" fill="#ffc6c6"/>
<rect x="547.9" y="354.14" width="16.6" height="128.76" fill="#d62728"/>
<rect x="564.5" y="391.48" width="16.8" height="91.42" fill="#ffc6c6"/>
<rect x="604.2" y="323.22" width="16.6" height="159.68" fill="#d62728"/>
<rect x="620.8000000000001" y="379.81" width="16.8" height="103.09" fill="#ffc6c6"/>
<g stroke="#000" stroke-width="3.0" stroke-linecap="round" fill="none">
<line x1="416.9" y1="288.4" x2="416.9" y2="482.9"/>
<line x1="416.9" y1="482.9" x2="669" y2="482.9"/>
<line x1="414.1" y1="482.90" x2="419.7" y2="482.90"/>
<line x1="414.1" y1="444.00" x2="419.7" y2="444.00"/>
<line x1="414.1" y1="405.10" x2="419.7" y2="405.10"/>
<line x1="414.1" y1="366.20" x2="419.7" y2="366.20"/>
<line x1="414.1" y1="327.30" x2="419.7" y2="327.30"/>
<line x1="414.1" y1="288.40" x2="419.7" y2="288.40"/>
</g>
<text x="405.80" y="487.60" font-size="13.4" text-anchor="end" font-weight="normal" fill="#000" >0</text>
<text x="405.80" y="448.70" font-size="13.4" text-anchor="end" font-weight="normal" fill="#000" >10</text>
<text x="405.80" y="409.80" font-size="13.4" text-anchor="end" font-weight="normal" fill="#000" >20</text>
<text x="405.80" y="370.90" font-size="13.4" text-anchor="end" font-weight="normal" fill="#000" >30</text>
<text x="405.80" y="332.00" font-size="13.4" text-anchor="end" font-weight="normal" fill="#000" >40</text>
<text x="405.80" y="293.10" font-size="13.4" text-anchor="end" font-weight="normal" fill="#000" >50</text>
<text x="377.30" y="385.60" font-size="13.2" text-anchor="middle" font-weight="normal" fill="#000" transform="rotate(-90 377.3 385.6)">Mean mass (ag)</text>
<rect x="435" y="302.7" width="34.8" height="5.6" fill="#d62728"/>
<rect x="435" y="321.7" width="34.8" height="5.6" fill="#ffc6c6"/>
<text x="474.80" y="309.90" font-size="11.6" text-anchor="start" font-weight="normal" fill="#000" >CdSe-p-A</text>
<text x="474.80" y="328.90" font-size="11.6" text-anchor="start" font-weight="normal" fill="#000" >CdSe-p-B</text>
<text x="360.40" y="287.40" font-size="19" text-anchor="start" font-weight="bold" fill="#000" >d</text>
<line x1="441.8" y1="480.6" x2="448.2" y2="480.6" stroke="#000" stroke-width="2.4" stroke-linecap="round"/>
<g stroke="#000" stroke-width="1.6" fill="none">
<line x1="500.3" y1="391.8" x2="500.3" y2="407.2"/>
<line x1="496.3" y1="391.8" x2="504.3" y2="391.8" stroke-width="1.9"/>
<line x1="496.3" y1="407.2" x2="504.3" y2="407.2" stroke-width="1.9"/>
<circle cx="500.3" cy="392.8" r="3.2"/>
<circle cx="500.3" cy="396.5" r="3.2"/>
<circle cx="500.3" cy="408.5" r="3.2"/>
</g>
<g stroke="#000" stroke-width="1.6" fill="none">
<line x1="517.1" y1="430.0" x2="517.1" y2="434.8"/>
<line x1="513.1" y1="430.0" x2="521.1" y2="430.0" stroke-width="1.9"/>
<line x1="513.1" y1="434.8" x2="521.1" y2="434.8" stroke-width="1.9"/>
<circle cx="517.1" cy="430.5" r="3.2"/>
<circle cx="517.1" cy="432.3" r="3.2"/>
<circle cx="517.1" cy="434.3" r="3.2"/>
</g>
<g stroke="#000" stroke-width="1.6" fill="none">
<line x1="556.5" y1="347.5" x2="556.5" y2="360.5"/>
<line x1="552.5" y1="347.5" x2="560.5" y2="347.5" stroke-width="1.9"/>
<line x1="552.5" y1="360.5" x2="560.5" y2="360.5" stroke-width="1.9"/>
<circle cx="556.5" cy="347.2" r="3.2"/>
<circle cx="556.5" cy="357.9" r="3.2"/>
<circle cx="556.5" cy="364.2" r="3.2"/>
</g>
<g stroke="#000" stroke-width="1.6" fill="none">
<line x1="573.5" y1="389.8" x2="573.5" y2="393.4"/>
<line x1="569.5" y1="389.8" x2="577.5" y2="389.8" stroke-width="1.9"/>
<line x1="569.5" y1="393.4" x2="577.5" y2="393.4" stroke-width="1.9"/>
<circle cx="573.5" cy="390.5" r="3.2"/>
<circle cx="573.5" cy="391.6" r="3.2"/>
<circle cx="573.5" cy="392.8" r="3.2"/>
</g>
<g stroke="#000" stroke-width="1.6" fill="none">
<line x1="612.3" y1="317.8" x2="612.3" y2="328.1"/>
<line x1="608.3" y1="317.8" x2="616.3" y2="317.8" stroke-width="1.9"/>
<line x1="608.3" y1="328.1" x2="616.3" y2="328.1" stroke-width="1.9"/>
<circle cx="612.3" cy="317.3" r="3.2"/>
<circle cx="612.3" cy="320.5" r="3.2"/>
<circle cx="612.3" cy="327.0" r="3.2"/>
</g>
<g stroke="#000" stroke-width="1.6" fill="none">
<line x1="629.1" y1="377.4" x2="629.1" y2="379.9"/>
<line x1="625.1" y1="377.4" x2="633.1" y2="377.4" stroke-width="1.9"/>
<line x1="625.1" y1="379.9" x2="633.1" y2="379.9" stroke-width="1.9"/>
<circle cx="629.1" cy="377.8" r="3.2"/>
<circle cx="629.1" cy="378.6" r="3.2"/>
<circle cx="629.1" cy="379.4" r="3.2"/>
</g>
<line x1="494.2" y1="383.9" x2="514.7" y2="383.9" stroke="#000" stroke-width="2.6"/>
<text x="504.45" y="387.00" font-size="28" text-anchor="middle" font-weight="bold" fill="#000" >**</text>
<line x1="553.0" y1="339.9" x2="573.9" y2="339.9" stroke="#000" stroke-width="2.6"/>
<text x="563.45" y="343.00" font-size="28" text-anchor="middle" font-weight="bold" fill="#000" >**</text>
<line x1="607.9" y1="310.8" x2="628.3" y2="310.8" stroke="#000" stroke-width="2.6"/>
<text x="618.10" y="314.00" font-size="28" text-anchor="middle" font-weight="bold" fill="#000" >**</text>
<text x="461.50" y="496.00" font-size="13.4" text-anchor="end" font-weight="normal" fill="#000" transform="rotate(-45 461.5 496.0)">Control</text>
<text x="518.60" y="496.60" font-size="13.4" text-anchor="end" font-weight="normal" fill="#000" transform="rotate(-45 518.6 496.6)">5 μg/mL</text>
<text x="575.00" y="495.70" font-size="13.4" text-anchor="end" font-weight="normal" fill="#000" transform="rotate(-45 575.0 495.7)">20 μg/mL</text>
<text x="631.30" y="494.80" font-size="13.4" text-anchor="end" font-weight="normal" fill="#000" transform="rotate(-45 631.3 494.8)">40 μg/mL</text>
<text x="0" y="573" font-size="19" font-weight="bold">e</text>
<text x="101.3" y="579.6" font-size="13.6" text-anchor="middle">DAPI</text>
<text x="267.1" y="579.6" font-size="13.6" text-anchor="middle">FITC</text>
<text x="448.5" y="579.6" font-size="13.6" text-anchor="middle">Merged</text>
<text x="616.9" y="579.6" font-size="13.6" text-anchor="middle">Bright field</text>
<clipPath id="c1"><rect x="31" y="589" width="145" height="144"/></clipPath><rect x="31" y="589" width="145" height="144" fill="#000"/><g clip-path="url(#c1)"><g transform="translate(31 589)"><ellipse cx="54" cy="13.8" rx="7.91" ry="10.79" transform="rotate(-10 54 13.8)" fill="url(#cytoDim)" filter="url(#bl2)"/><ellipse cx="54" cy="11.6" rx="4.96" ry="6.25" transform="rotate(-10 54 11.6)" fill="url(#nuc)" filter="url(#bl1)"/><ellipse cx="101.6" cy="16.9" rx="11.81" ry="9.86" transform="rotate(20 101.6 16.9)" fill="url(#cytoDim)" filter="url(#bl2)"/><ellipse cx="102.7" cy="16.9" rx="5.66" ry="5.66" transform="rotate(20 102.7 16.9)" fill="url(#nuc)" filter="url(#bl1)"/><ellipse cx="130.2" cy="12.7" rx="7.91" ry="9.86" transform="rotate(20 130.2 12.7)" fill="url(#cytoDim)" filter="url(#bl2)"/><ellipse cx="131.2" cy="12.7" rx="5.66" ry="7.55" transform="rotate(20 131.2 12.7)" fill="url(#nuc)" filter="url(#bl1)"/><ellipse cx="145" cy="11" rx="2.79" ry="5.58" transform="rotate(0 145 11)" fill="url(#cytoDim)" filter="url(#bl2)"/><ellipse cx="145" cy="11" rx="2.95" ry="5.90" transform="rotate(0 145 11)" fill="url(#nuc)" filter="url(#bl1)"/><ellipse cx="20.1" cy="33.9" rx="8.37" ry="11.62" transform="rotate(-30 20.1 33.9)" fill="url(#cyto)" filter="url(#bl2)"/><ellipse cx="19" cy="32.8" rx="6.25" ry="8.14" transform="rotate(-30 19 32.8)" fill="url(#nuc)" filter="url(#bl1)"/><ellipse cx="97.4" cy="33.9" rx="8.00" ry="8.00" transform="rotate(0 97.4 33.9)" fill="url(#cytoB)" filter="url(#bl2)"/><ellipse cx="96.8" cy="33.4" rx="7.08" ry="7.08" transform="rotate(0 96.8 33.4)" fill="url(#nucM)" filter="url(#bl1)"/><ellipse cx="113.3" cy="40.2" rx="7.91" ry="8.37" transform="rotate(0 113.3 40.2)" fill="url(#cytoDim)" filter="url(#bl2)"/><ellipse cx="114.3" cy="39.2" rx="5.90" ry="6.49" transform="rotate(0 114.3 39.2)" fill="url(#nuc)" filter="url(#bl1)"/><ellipse cx="73" cy="55" rx="12.56" ry="8.84" transform="rotate(25 73 55)" fill="url(#cyto)" filter="url(#bl2)"/><ellipse cx="70.9" cy="55" rx="7.55" ry="5.66" transform="rotate(25 70.9 55)" fill="url(#nuc)" filter="url(#bl1)"/><ellipse cx="103.7" cy="57.2" rx="8.84" ry="6.88" transform="rotate(0 103.7 57.2)" fill="url(#cyto)" filter="url(#bl2)"/><ellipse cx="105.8" cy="57.2" rx="6.84" ry="5.66" transform="rotate(0 105.8 57.2)" fill="url(#nuc)" filter="url(#bl1)"/><ellipse cx="28.6" cy="71" rx="10.23" ry="9.30" transform="rotate(30 28.6 71)" fill="url(#cyto)" filter="url(#bl2)"/><ellipse cx="26.5" cy="69.9" rx="6.84" ry="6.25" transform="rotate(30 26.5 69.9)" fill="url(#nuc)" filter="url(#bl1)"/><ellipse cx="1.5" cy="86.8" rx="3.54" ry="7.08" transform="rotate(0 1.5 86.8)" fill="url(#nuc)" filter="url(#bl1)"/><ellipse cx="24.3" cy="96.3" rx="11.81" ry="8.84" transform="rotate(15 24.3 96.3)" fill="url(#cyto)" filter="url(#bl2)"/><ellipse cx="22.2" cy="95.3" rx="8.73" ry="6.25" transform="rotate(15 22.2 95.3)" fill="url(#nuc)" filter="url(#bl1)"/><ellipse cx="116.4" cy="96.3" rx="15.81" ry="11.16" transform="rotate(-50 116.4 96.3)" fill="url(#cytoDim)" filter="url(#bl2)"/><ellipse cx="115.4" cy="96.3" rx="9.44" ry="11.80" transform="rotate(-30 115.4 96.3)" fill="url(#nuc)" filter="url(#bl1)"/><ellipse cx="20.1" cy="133.4" rx="10.23" ry="9.30" transform="rotate(0 20.1 133.4)" fill="url(#cyto)" filter="url(#bl2)"/><ellipse cx="19" cy="135.5" rx="7.08" ry="7.08" transform="rotate(0 19 135.5)" fill="url(#nuc)" filter="url(#bl1)"/><ellipse cx="59.3" cy="133.4" rx="9.30" ry="7.91" transform="rotate(0 59.3 133.4)" fill="url(#cyto)" filter="url(#bl2)"/><ellipse cx="59.3" cy="133.4" rx="7.55" ry="6.25" transform="rotate(0 59.3 133.4)" fill="url(#nuc)" filter="url(#bl1)"/><ellipse cx="47" cy="144" rx="6.51" ry="2.79" transform="rotate(0 47 144)" fill="url(#cyto)" filter="url(#bl2)"/><ellipse cx="95" cy="145" rx="5.58" ry="2.79" transform="rotate(0 95 145)" fill="url(#cyto)" filter="url(#bl2)"/><ellipse cx="95" cy="145" rx="5.90" ry="3.54" transform="rotate(0 95 145)" fill="url(#nuc)" filter="url(#bl1)"/><ellipse cx="1" cy="23" rx="2.79" ry="11.16" transform="rotate(0 1 23)" fill="url(#cytoDim)" filter="url(#bl2)"/></g></g>
<text x="36.9" y="607.8" font-size="13.8" fill="#f2f2f2">CdSe-p-A</text>
<g stroke="#e6e6e6" stroke-width="1.8" fill="none"><line x1="137.3" y1="726.1" x2="171.7" y2="726.1"/><line x1="137.3" y1="721.8000000000001" x2="137.3" y2="730.4"/><line x1="171.7" y1="721.8000000000001" x2="171.7" y2="730.4"/></g><text x="154.6" y="717.3" font-size="11.3" text-anchor="middle" fill="#e6e6e6">50 μm</text>
<rect x="194" y="589.5" width="144" height="144" fill="#000"/>
<circle cx="290.3" cy="625.0" r="4.2" fill="url(#gblob)"/><circle cx="224.7" cy="663.1" r="4" fill="url(#gblob)"/><circle cx="215" cy="690.5" r="3.6" fill="url(#gblob)"/><circle cx="249" cy="721.3" r="3.6" fill="url(#gblob)"/><circle cx="213" cy="720.5" r="3.2" fill="url(#gblob)"/><circle cx="271.3" cy="646.5" r="2" fill="url(#gblob)"/><circle cx="194.5" cy="664.5" r="2" fill="url(#gblob)"/><circle cx="215" cy="621.5" r="2.2" fill="url(#gblob)"/><circle cx="291" cy="639.5" r="1.6" fill="url(#gblob)"/><circle cx="311" cy="629.5" r="1.3" fill="url(#gblob)"/><circle cx="274" cy="659.5" r="1.3" fill="url(#gblob)"/>
<g stroke="#e6e6e6" stroke-width="1.8" fill="none"><line x1="299.2" y1="726.3" x2="333.6" y2="726.3"/><line x1="299.2" y1="722.0" x2="299.2" y2="730.5999999999999"/><line x1="333.6" y1="722.0" x2="333.6" y2="730.5999999999999"/></g><text x="315.0" y="717.3" font-size="11.3" text-anchor="middle" fill="#e6e6e6">50 μm</text>
<clipPath id="c2"><rect x="373" y="587" width="144.5" height="144.5"/></clipPath><rect x="373" y="587" width="144.5" height="144.5" fill="#000"/><g clip-path="url(#c2)"><g transform="translate(373 587)"><ellipse cx="54" cy="13.8" rx="7.91" ry="10.79" transform="rotate(-10 54 13.8)" fill="url(#cytoDim)" filter="url(#bl2)"/><ellipse cx="54" cy="11.6" rx="4.96" ry="6.25" transform="rotate(-10 54 11.6)" fill="url(#nuc)" filter="url(#bl1)"/><ellipse cx="101.6" cy="16.9" rx="11.81" ry="9.86" transform="rotate(20 101.6 16.9)" fill="url(#cytoDim)" filter="url(#bl2)"/><ellipse cx="102.7" cy="16.9" rx="5.66" ry="5.66" transform="rotate(20 102.7 16.9)" fill="url(#nuc)" filter="url(#bl1)"/><ellipse cx="130.2" cy="12.7" rx="7.91" ry="9.86" transform="rotate(20 130.2 12.7)" fill="url(#cytoDim)" filter="url(#bl2)"/><ellipse cx="131.2" cy="12.7" rx="5.66" ry="7.55" transform="rotate(20 131.2 12.7)" fill="url(#nuc)" filter="url(#bl1)"/><ellipse cx="145" cy="11" rx="2.79" ry="5.58" transform="rotate(0 145 11)" fill="url(#cytoDim)" filter="url(#bl2)"/><ellipse cx="145" cy="11" rx="2.95" ry="5.90" transform="rotate(0 145 11)" fill="url(#nuc)" filter="url(#bl1)"/><ellipse cx="20.1" cy="33.9" rx="8.37" ry="11.62" transform="rotate(-30 20.1 33.9)" fill="url(#cyto)" filter="url(#bl2)"/><ellipse cx="19" cy="32.8" rx="6.25" ry="8.14" transform="rotate(-30 19 32.8)" fill="url(#nuc)" filter="url(#bl1)"/><ellipse cx="97.4" cy="33.9" rx="8.00" ry="8.00" transform="rotate(0 97.4 33.9)" fill="url(#cytoB)" filter="url(#bl2)"/><ellipse cx="96.8" cy="33.4" rx="7.08" ry="7.08" transform="rotate(0 96.8 33.4)" fill="url(#nucM)" filter="url(#bl1)"/><ellipse cx="113.3" cy="40.2" rx="7.91" ry="8.37" transform="rotate(0 113.3 40.2)" fill="url(#cytoDim)" filter="url(#bl2)"/><ellipse cx="114.3" cy="39.2" rx="5.90" ry="6.49" transform="rotate(0 114.3 39.2)" fill="url(#nuc)" filter="url(#bl1)"/><ellipse cx="73" cy="55" rx="12.56" ry="8.84" transform="rotate(25 73 55)" fill="url(#cyto)" filter="url(#bl2)"/><ellipse cx="70.9" cy="55" rx="7.55" ry="5.66" transform="rotate(25 70.9 55)" fill="url(#nuc)" filter="url(#bl1)"/><ellipse cx="103.7" cy="57.2" rx="8.84" ry="6.88" transform="rotate(0 103.7 57.2)" fill="url(#cyto)" filter="url(#bl2)"/><ellipse cx="105.8" cy="57.2" rx="6.84" ry="5.66" transform="rotate(0 105.8 57.2)" fill="url(#nuc)" filter="url(#bl1)"/><ellipse cx="28.6" cy="71" rx="10.23" ry="9.30" transform="rotate(30 28.6 71)" fill="url(#cyto)" filter="url(#bl2)"/><ellipse cx="26.5" cy="69.9" rx="6.84" ry="6.25" transform="rotate(30 26.5 69.9)" fill="url(#nuc)" filter="url(#bl1)"/><ellipse cx="1.5" cy="86.8" rx="3.54" ry="7.08" transform="rotate(0 1.5 86.8)" fill="url(#nuc)" filter="url(#bl1)"/><ellipse cx="24.3" cy="96.3" rx="11.81" ry="8.84" transform="rotate(15 24.3 96.3)" fill="url(#cyto)" filter="url(#bl2)"/><ellipse cx="22.2" cy="95.3" rx="8.73" ry="6.25" transform="rotate(15 22.2 95.3)" fill="url(#nuc)" filter="url(#bl1)"/><ellipse cx="116.4" cy="96.3" rx="15.81" ry="11.16" transform="rotate(-50 116.4 96.3)" fill="url(#cytoDim)" filter="url(#bl2)"/><ellipse cx="115.4" cy="96.3" rx="9.44" ry="11.80" transform="rotate(-30 115.4 96.3)" fill="url(#nuc)" filter="url(#bl1)"/><ellipse cx="20.1" cy="133.4" rx="10.23" ry="9.30" transform="rotate(0 20.1 133.4)" fill="url(#cyto)" filter="url(#bl2)"/><ellipse cx="19" cy="135.5" rx="7.08" ry="7.08" transform="rotate(0 19 135.5)" fill="url(#nuc)" filter="url(#bl1)"/><ellipse cx="59.3" cy="133.4" rx="9.30" ry="7.91" transform="rotate(0 59.3 133.4)" fill="url(#cyto)" filter="url(#bl2)"/><ellipse cx="59.3" cy="133.4" rx="7.55" ry="6.25" transform="rotate(0 59.3 133.4)" fill="url(#nuc)" filter="url(#bl1)"/><ellipse cx="47" cy="144" rx="6.51" ry="2.79" transform="rotate(0 47 144)" fill="url(#cyto)" filter="url(#bl2)"/><ellipse cx="95" cy="145" rx="5.58" ry="2.79" transform="rotate(0 95 145)" fill="url(#cyto)" filter="url(#bl2)"/><ellipse cx="95" cy="145" rx="5.90" ry="3.54" transform="rotate(0 95 145)" fill="url(#nuc)" filter="url(#bl1)"/><ellipse cx="1" cy="23" rx="2.79" ry="11.16" transform="rotate(0 1 23)" fill="url(#cytoDim)" filter="url(#bl2)"/></g></g>
<circle cx="470.4" cy="622.5" r="3" fill="url(#gy)"/><circle cx="403.1" cy="661.8" r="3.5" fill="url(#gy)"/><circle cx="394" cy="688" r="4" fill="url(#gy)"/><circle cx="392" cy="718.3" r="3.5" fill="url(#gy)"/><circle cx="427.5" cy="719.6" r="3.5" fill="url(#gy)"/><circle cx="471" cy="639" r="1.5" fill="url(#gblob)"/><circle cx="506" cy="622" r="1.5" fill="url(#gblob)"/><circle cx="373" cy="662" r="2.5" fill="url(#gblob)"/><circle cx="478" cy="642" r="1.2" fill="url(#gblob)"/>
<line x1="429.1" y1="639.9" x2="416.92" y2="650.04" stroke="#fff" stroke-width="2.5"/><polygon points="410.00,655.80 414.10,645.10 421.27,653.71" fill="#fff"/>
<line x1="465.1" y1="656.9" x2="468.70" y2="638.14" stroke="#fff" stroke-width="2.5"/><polygon points="470.40,629.30 474.01,640.18 463.01,638.06" fill="#fff"/>
<line x1="429.1" y1="672.7" x2="413.60" y2="681.61" stroke="#fff" stroke-width="2.5"/><polygon points="405.80,686.10 411.68,676.26 417.26,685.97" fill="#fff"/>
<line x1="418.5" y1="704.1" x2="404.14" y2="712.18" stroke="#fff" stroke-width="2.5"/><polygon points="396.30,716.60 402.27,706.81 407.76,716.57" fill="#fff"/>
<line x1="450.3" y1="702" x2="436.25" y2="712.74" stroke="#fff" stroke-width="2.5"/><polygon points="429.10,718.20 433.65,707.68 440.45,716.58" fill="#fff"/>
<g stroke="#e6e6e6" stroke-width="1.8" fill="none"><line x1="479.0" y1="724.5" x2="513.3" y2="724.5"/><line x1="479.0" y1="720.2" x2="479.0" y2="728.8"/><line x1="513.3" y1="720.2" x2="513.3" y2="728.8"/></g><text x="493.5" y="717.3" font-size="11.3" text-anchor="middle" fill="#e6e6e6">50 μm</text>
<rect x="541" y="587" width="144" height="145" fill="url(#bf1)"/>
<rect x="541" y="587" width="1.3" height="145" fill="#6a6a6a" fill-opacity="0.55"/>
<g filter="url(#bl4)" transform="rotate(0 592.5 600.7)"><ellipse cx="593.5" cy="601.7" rx="8" ry="9" fill="none" stroke="#000" stroke-opacity="0.080" stroke-width="1.8"/><ellipse cx="591.9" cy="600.1" rx="8" ry="9" fill="#fff" fill-opacity="0.060" stroke="#fff" stroke-opacity="0.130" stroke-width="1.8"/></g>
<g filter="url(#bl4)" transform="rotate(0 646 605.9)"><ellipse cx="647.0" cy="606.9" rx="8" ry="9" fill="none" stroke="#000" stroke-opacity="0.080" stroke-width="1.8"/><ellipse cx="645.4" cy="605.3" rx="8" ry="9" fill="#fff" fill-opacity="0.060" stroke="#fff" stroke-opacity="0.130" stroke-width="1.8"/></g>
<g filter="url(#bl4)" transform="rotate(0 671.3 599.6)"><ellipse cx="672.3" cy="600.6" rx="8" ry="10" fill="none" stroke="#000" stroke-opacity="0.080" stroke-width="1.8"/><ellipse cx="670.7" cy="599.0" rx="8" ry="10" fill="#fff" fill-opacity="0.060" stroke="#fff" stroke-opacity="0.130" stroke-width="1.8"/></g>
<g filter="url(#bl4)" transform="rotate(0 561 621.7)"><ellipse cx="562.0" cy="622.7" rx="8" ry="9" fill="none" stroke="#000" stroke-opacity="0.080" stroke-width="1.8"/><ellipse cx="560.4" cy="621.1" rx="8" ry="9" fill="#fff" fill-opacity="0.060" stroke="#fff" stroke-opacity="0.130" stroke-width="1.8"/></g>
<g filter="url(#bl4)" transform="rotate(0 638.8 620.6)"><ellipse cx="639.8" cy="621.6" rx="7.5" ry="8" fill="none" stroke="#000" stroke-opacity="0.080" stroke-width="1.8"/><ellipse cx="638.2" cy="620.0" rx="7.5" ry="8" fill="#fff" fill-opacity="0.060" stroke="#fff" stroke-opacity="0.130" stroke-width="1.8"/></g>
<g filter="url(#bl4)" transform="rotate(0 653.5 627)"><ellipse cx="654.5" cy="628.0" rx="8" ry="9" fill="none" stroke="#000" stroke-opacity="0.080" stroke-width="1.8"/><ellipse cx="652.9" cy="626.4" rx="8" ry="9" fill="#fff" fill-opacity="0.060" stroke="#fff" stroke-opacity="0.130" stroke-width="1.8"/></g>
<g filter="url(#bl4)" transform="rotate(0 614.6 643.8)"><ellipse cx="615.6" cy="644.8" rx="8" ry="8" fill="none" stroke="#000" stroke-opacity="0.080" stroke-width="1.8"/><ellipse cx="614.0" cy="643.2" rx="8" ry="8" fill="#fff" fill-opacity="0.060" stroke="#fff" stroke-opacity="0.130" stroke-width="1.8"/></g>
<g filter="url(#bl4)" transform="rotate(0 645 644.8)"><ellipse cx="646.0" cy="645.8" rx="9" ry="8" fill="none" stroke="#000" stroke-opacity="0.080" stroke-width="1.8"/><ellipse cx="644.4" cy="644.2" rx="9" ry="8" fill="#fff" fill-opacity="0.060" stroke="#fff" stroke-opacity="0.130" stroke-width="1.8"/></g>
<g filter="url(#bl4)" transform="rotate(0 569.4 658.5)"><ellipse cx="570.4" cy="659.5" rx="8" ry="8" fill="none" stroke="#000" stroke-opacity="0.080" stroke-width="1.8"/><ellipse cx="568.8" cy="657.9" rx="8" ry="8" fill="#fff" fill-opacity="0.060" stroke="#fff" stroke-opacity="0.130" stroke-width="1.8"/></g>
<g filter="url(#bl4)" transform="rotate(0 564.1 684.8)"><ellipse cx="565.1" cy="685.8" rx="9" ry="8" fill="none" stroke="#000" stroke-opacity="0.080" stroke-width="1.8"/><ellipse cx="563.5" cy="684.2" rx="9" ry="8" fill="#fff" fill-opacity="0.060" stroke="#fff" stroke-opacity="0.130" stroke-width="1.8"/></g>
<g filter="url(#bl4)" transform="rotate(0 657.7 683.7)"><ellipse cx="658.7" cy="684.7" rx="9" ry="12" fill="none" stroke="#000" stroke-opacity="0.080" stroke-width="1.8"/><ellipse cx="657.1" cy="683.1" rx="9" ry="12" fill="#fff" fill-opacity="0.060" stroke="#fff" stroke-opacity="0.130" stroke-width="1.8"/></g>
<g filter="url(#bl4)" transform="rotate(0 559.9 718.4)"><ellipse cx="560.9" cy="719.4" rx="8" ry="8" fill="none" stroke="#000" stroke-opacity="0.080" stroke-width="1.8"/><ellipse cx="559.3" cy="717.8" rx="8" ry="8" fill="#fff" fill-opacity="0.060" stroke="#fff" stroke-opacity="0.130" stroke-width="1.8"/></g>
<g filter="url(#bl4)" transform="rotate(0 598.8 718.4)"><ellipse cx="599.8" cy="719.4" rx="8" ry="8" fill="none" stroke="#000" stroke-opacity="0.080" stroke-width="1.8"/><ellipse cx="598.2" cy="717.8" rx="8" ry="8" fill="#fff" fill-opacity="0.060" stroke="#fff" stroke-opacity="0.130" stroke-width="1.8"/></g>
<g filter="url(#bl4)" transform="rotate(0 638.8 728.9)"><ellipse cx="639.8" cy="729.9" rx="7" ry="6" fill="none" stroke="#000" stroke-opacity="0.080" stroke-width="1.8"/><ellipse cx="638.2" cy="728.3" rx="7" ry="6" fill="#fff" fill-opacity="0.060" stroke="#fff" stroke-opacity="0.130" stroke-width="1.8"/></g>
<circle cx="563" cy="627" r="3.5" fill="url(#gbf)"/><circle cx="638.8" cy="620.6" r="4" fill="url(#gbf)"/><circle cx="617" cy="644" r="3" fill="url(#gbf)"/><circle cx="571" cy="661" r="5" fill="url(#gbf)"/><circle cx="564" cy="687" r="5.5" fill="url(#gbf)"/><circle cx="560" cy="718" r="5" fill="url(#gbf)"/><circle cx="598.8" cy="719" r="5" fill="url(#gbf)"/><circle cx="543" cy="667" r="3" fill="url(#gbf)"/><circle cx="650" cy="696" r="2" fill="url(#gbf)"/>
<line x1="597.8" y1="649" x2="585.77" y2="655.32" stroke="#000" stroke-width="2.5"/><polygon points="577.80,659.50 584.05,649.89 589.26,659.81" fill="#000"/>
<line x1="631.4" y1="656.4" x2="635.68" y2="637.77" stroke="#000" stroke-width="2.5"/><polygon points="637.70,629.00 640.92,640.00 630.00,637.49" fill="#000"/>
<line x1="597.8" y1="691.5" x2="582.50" y2="689.22" stroke="#000" stroke-width="2.5"/><polygon points="573.60,687.90 584.32,683.83 582.67,694.91" fill="#000"/>
<line x1="586.2" y1="703.7" x2="571.00" y2="711.99" stroke="#000" stroke-width="2.5"/><polygon points="563.10,716.30 569.20,706.60 574.56,716.43" fill="#000"/>
<line x1="626.1" y1="703.7" x2="611.91" y2="711.83" stroke="#000" stroke-width="2.5"/><polygon points="604.10,716.30 609.99,706.47 615.56,716.19" fill="#000"/>
<g stroke="#141414" stroke-width="1.8" fill="none"><line x1="646.9" y1="724.5" x2="681.1" y2="724.5"/><line x1="646.9" y1="720.2" x2="646.9" y2="728.8"/><line x1="681.1" y1="720.2" x2="681.1" y2="728.8"/></g><text x="663.1" y="717.3" font-size="11.3" text-anchor="middle" fill="#141414">50 μm</text>
<clipPath id="c3"><rect x="32" y="771" width="144.5" height="144"/></clipPath><rect x="32" y="771" width="144.5" height="144" fill="#000"/><g clip-path="url(#c3)"><g transform="translate(32 771)"><ellipse cx="62.4" cy="19" rx="7.07" ry="7.07" transform="rotate(0 62.4 19)" fill="url(#cytoB)" filter="url(#bl2)"/><ellipse cx="62.4" cy="19" rx="5.31" ry="5.31" transform="rotate(0 62.4 19)" fill="url(#nuc)" filter="url(#bl1)"/><ellipse cx="80.4" cy="15.9" rx="7.07" ry="7.07" transform="rotate(0 80.4 15.9)" fill="url(#cyto)" filter="url(#bl2)"/><ellipse cx="80.4" cy="15.9" rx="5.43" ry="5.43" transform="rotate(0 80.4 15.9)" fill="url(#nucM)" filter="url(#bl1)"/><ellipse cx="108" cy="17" rx="6.70" ry="8.18" transform="rotate(0 108 17)" fill="url(#cytoB)" filter="url(#bl2)"/><ellipse cx="108" cy="17" rx="5.07" ry="6.25" transform="rotate(0 108 17)" fill="url(#nuc)" filter="url(#bl1)"/><ellipse cx="136.5" cy="32.8" rx="8.84" ry="7.44" transform="rotate(0 136.5 32.8)" fill="url(#cyto)" filter="url(#bl2)"/><ellipse cx="137.5" cy="32.8" rx="7.08" ry="5.90" transform="rotate(0 137.5 32.8)" fill="url(#nuc)" filter="url(#bl1)"/><ellipse cx="139" cy="3" rx="4.65" ry="2.79" transform="rotate(0 139 3)" fill="url(#cytoDim)" filter="url(#bl2)"/><ellipse cx="139" cy="3" rx="3.54" ry="2.36" transform="rotate(0 139 3)" fill="url(#nuc)" filter="url(#bl1)"/><ellipse cx="27.5" cy="46.6" rx="6.98" ry="13.02" transform="rotate(20 27.5 46.6)" fill="url(#cytoDim)" filter="url(#bl2)"/><ellipse cx="27.5" cy="46.6" rx="5.31" ry="11.21" transform="rotate(20 27.5 46.6)" fill="url(#nuc)" filter="url(#bl1)"/><ellipse cx="66.7" cy="60.3" rx="5.39" ry="9.86" transform="rotate(-40 66.7 60.3)" fill="url(#cytoDim)" filter="url(#bl2)"/><ellipse cx="66.7" cy="60.3" rx="4.72" ry="9.44" transform="rotate(-40 66.7 60.3)" fill="url(#nuc)" filter="url(#bl1)"/><ellipse cx="12.7" cy="85.7" rx="9.77" ry="8.84" transform="rotate(0 12.7 85.7)" fill="url(#cyto)" filter="url(#bl2)"/><ellipse cx="12.7" cy="86.5" rx="8.26" ry="7.08" transform="rotate(0 12.7 86.5)" fill="url(#nucM)" filter="url(#bl1)"/><ellipse cx="54" cy="86.8" rx="7.91" ry="7.91" transform="rotate(0 54 86.8)" fill="url(#cytoB)" filter="url(#bl2)"/><ellipse cx="54" cy="86.8" rx="5.43" ry="5.43" transform="rotate(0 54 86.8)" fill="url(#nuc)" filter="url(#bl1)"/><ellipse cx="13.8" cy="106.9" rx="11.16" ry="8.37" transform="rotate(0 13.8 106.9)" fill="url(#cytoF)" filter="url(#bl2)"/><ellipse cx="13.8" cy="106.9" rx="10.62" ry="8.26" transform="rotate(0 13.8 106.9)" fill="url(#nucD)" filter="url(#bl1)"/><ellipse cx="115.3" cy="105.8" rx="6.98" ry="7.91" transform="rotate(0 115.3 105.8)" fill="url(#cyto)" filter="url(#bl2)"/><ellipse cx="114.3" cy="105.8" rx="6.49" ry="7.67" transform="rotate(0 114.3 105.8)" fill="url(#nuc)" filter="url(#bl1)"/><ellipse cx="145" cy="108" rx="2.33" ry="6.51" transform="rotate(0 145 108)" fill="url(#cyto)" filter="url(#bl2)"/><ellipse cx="44.5" cy="124.9" rx="5.95" ry="13.95" transform="rotate(30 44.5 124.9)" fill="url(#cytoDim)" filter="url(#bl2)"/><ellipse cx="44.5" cy="124.9" rx="5.31" ry="12.98" transform="rotate(30 44.5 124.9)" fill="url(#nuc)" filter="url(#bl1)"/><ellipse cx="51" cy="143" rx="5.58" ry="2.79" transform="rotate(0 51 143)" fill="url(#cytoDim)" filter="url(#bl2)"/><ellipse cx="51" cy="143" rx="3.54" ry="2.36" transform="rotate(0 51 143)" fill="url(#nuc)" filter="url(#bl1)"/></g></g>
<text x="37.3" y="794.9" font-size="13.8" fill="#f2f2f2">CdSe-p-B</text>
<g stroke="#e6e6e6" stroke-width="1.8" fill="none"><line x1="137.9" y1="908.2" x2="172.3" y2="908.2"/><line x1="137.9" y1="903.9000000000001" x2="137.9" y2="912.5"/><line x1="172.3" y1="903.9000000000001" x2="172.3" y2="912.5"/></g><text x="154.6" y="899.2" font-size="11.3" text-anchor="middle" fill="#e6e6e6">50 μm</text>
<rect x="194" y="771" width="144" height="144" fill="#000"/>
<circle cx="290.3" cy="792.2" r="2.2" fill="url(#gblob)"/><circle cx="301.5" cy="785.8" r="2.2" fill="url(#gblob)"/><circle cx="333.6" cy="774.2" r="1.8" fill="url(#gblob)"/><circle cx="214.1" cy="851" r="3" fill="url(#gblob)"/><circle cx="208" cy="852" r="2.5" fill="url(#gblob)"/>
<g stroke="#e6e6e6" stroke-width="1.8" fill="none"><line x1="299.2" y1="907.5" x2="333.6" y2="907.5"/><line x1="299.2" y1="903.2" x2="299.2" y2="911.8"/><line x1="333.6" y1="903.2" x2="333.6" y2="911.8"/></g><text x="315.0" y="899.2" font-size="11.3" text-anchor="middle" fill="#e6e6e6">50 μm</text>
<clipPath id="c4"><rect x="373" y="772" width="144.5" height="144"/></clipPath><rect x="373" y="772" width="144.5" height="144" fill="#000"/><g clip-path="url(#c4)"><g transform="translate(373 772)"><ellipse cx="62.4" cy="19" rx="7.07" ry="7.07" transform="rotate(0 62.4 19)" fill="url(#cytoB)" filter="url(#bl2)"/><ellipse cx="62.4" cy="19" rx="5.31" ry="5.31" transform="rotate(0 62.4 19)" fill="url(#nuc)" filter="url(#bl1)"/><ellipse cx="80.4" cy="15.9" rx="7.07" ry="7.07" transform="rotate(0 80.4 15.9)" fill="url(#cyto)" filter="url(#bl2)"/><ellipse cx="80.4" cy="15.9" rx="5.43" ry="5.43" transform="rotate(0 80.4 15.9)" fill="url(#nucM)" filter="url(#bl1)"/><ellipse cx="108" cy="17" rx="6.70" ry="8.18" transform="rotate(0 108 17)" fill="url(#cytoB)" filter="url(#bl2)"/><ellipse cx="108" cy="17" rx="5.07" ry="6.25" transform="rotate(0 108 17)" fill="url(#nuc)" filter="url(#bl1)"/><ellipse cx="136.5" cy="32.8" rx="8.84" ry="7.44" transform="rotate(0 136.5 32.8)" fill="url(#cyto)" filter="url(#bl2)"/><ellipse cx="137.5" cy="32.8" rx="7.08" ry="5.90" transform="rotate(0 137.5 32.8)" fill="url(#nuc)" filter="url(#bl1)"/><ellipse cx="139" cy="3" rx="4.65" ry="2.79" transform="rotate(0 139 3)" fill="url(#cytoDim)" filter="url(#bl2)"/><ellipse cx="139" cy="3" rx="3.54" ry="2.36" transform="rotate(0 139 3)" fill="url(#nuc)" filter="url(#bl1)"/><ellipse cx="27.5" cy="46.6" rx="6.98" ry="13.02" transform="rotate(20 27.5 46.6)" fill="url(#cytoDim)" filter="url(#bl2)"/><ellipse cx="27.5" cy="46.6" rx="5.31" ry="11.21" transform="rotate(20 27.5 46.6)" fill="url(#nuc)" filter="url(#bl1)"/><ellipse cx="66.7" cy="60.3" rx="5.39" ry="9.86" transform="rotate(-40 66.7 60.3)" fill="url(#cytoDim)" filter="url(#bl2)"/><ellipse cx="66.7" cy="60.3" rx="4.72" ry="9.44" transform="rotate(-40 66.7 60.3)" fill="url(#nuc)" filter="url(#bl1)"/><ellipse cx="12.7" cy="85.7" rx="9.77" ry="8.84" transform="rotate(0 12.7 85.7)" fill="url(#cyto)" filter="url(#bl2)"/><ellipse cx="12.7" cy="86.5" rx="8.26" ry="7.08" transform="rotate(0 12.7 86.5)" fill="url(#nucM)" filter="url(#bl1)"/><ellipse cx="54" cy="86.8" rx="7.91" ry="7.91" transform="rotate(0 54 86.8)" fill="url(#cytoB)" filter="url(#bl2)"/><ellipse cx="54" cy="86.8" rx="5.43" ry="5.43" transform="rotate(0 54 86.8)" fill="url(#nuc)" filter="url(#bl1)"/><ellipse cx="13.8" cy="106.9" rx="11.16" ry="8.37" transform="rotate(0 13.8 106.9)" fill="url(#cytoF)" filter="url(#bl2)"/><ellipse cx="13.8" cy="106.9" rx="10.62" ry="8.26" transform="rotate(0 13.8 106.9)" fill="url(#nucD)" filter="url(#bl1)"/><ellipse cx="115.3" cy="105.8" rx="6.98" ry="7.91" transform="rotate(0 115.3 105.8)" fill="url(#cyto)" filter="url(#bl2)"/><ellipse cx="114.3" cy="105.8" rx="6.49" ry="7.67" transform="rotate(0 114.3 105.8)" fill="url(#nuc)" filter="url(#bl1)"/><ellipse cx="145" cy="108" rx="2.33" ry="6.51" transform="rotate(0 145 108)" fill="url(#cyto)" filter="url(#bl2)"/><ellipse cx="44.5" cy="124.9" rx="5.95" ry="13.95" transform="rotate(30 44.5 124.9)" fill="url(#cytoDim)" filter="url(#bl2)"/><ellipse cx="44.5" cy="124.9" rx="5.31" ry="12.98" transform="rotate(30 44.5 124.9)" fill="url(#nuc)" filter="url(#bl1)"/><ellipse cx="51" cy="143" rx="5.58" ry="2.79" transform="rotate(0 51 143)" fill="url(#cytoDim)" filter="url(#bl2)"/><ellipse cx="51" cy="143" rx="3.54" ry="2.36" transform="rotate(0 51 143)" fill="url(#nuc)" filter="url(#bl1)"/></g></g>
<circle cx="469" cy="793.5" r="1.2" fill="url(#gdot)"/><circle cx="481" cy="787" r="1.2" fill="url(#gdot)"/><circle cx="393" cy="852" r="1.3" fill="url(#gdot)"/>
<line x1="508.5" y1="815.4" x2="494.16" y2="803.23" stroke="#fff" stroke-width="2.5"/><polygon points="487.30,797.40 498.55,799.60 491.30,808.14" fill="#fff"/>
<line x1="423.4" y1="836.6" x2="405.13" y2="846.96" stroke="#fff" stroke-width="2.5"/><polygon points="397.30,851.40 403.24,841.60 408.76,851.34" fill="#fff"/>
<g stroke="#e6e6e6" stroke-width="1.8" fill="none"><line x1="479.0" y1="908.9" x2="513.3" y2="908.9"/><line x1="479.0" y1="904.6" x2="479.0" y2="913.1999999999999"/><line x1="513.3" y1="904.6" x2="513.3" y2="913.1999999999999"/></g><text x="493.5" y="899.2" font-size="11.3" text-anchor="middle" fill="#e6e6e6">50 μm</text>
<rect x="541" y="772" width="144" height="144" fill="url(#bf2)"/>
<rect x="541" y="772" width="1.3" height="144" fill="#a0a0a0" fill-opacity="0.5"/>
<g filter="url(#bl4)" transform="rotate(0 600.9 789.9)"><ellipse cx="601.9" cy="790.9" rx="7" ry="8" fill="none" stroke="#000" stroke-opacity="0.064" stroke-width="1.8"/><ellipse cx="600.3" cy="789.3" rx="7" ry="8" fill="#fff" fill-opacity="0.048" stroke="#fff" stroke-opacity="0.104" stroke-width="1.8"/></g>
<g filter="url(#bl4)" transform="rotate(0 620.9 787.8)"><ellipse cx="621.9" cy="788.8" rx="7" ry="8" fill="none" stroke="#000" stroke-opacity="0.064" stroke-width="1.8"/><ellipse cx="620.3" cy="787.2" rx="7" ry="8" fill="#fff" fill-opacity="0.048" stroke="#fff" stroke-opacity="0.104" stroke-width="1.8"/></g>
<g filter="url(#bl4)" transform="rotate(0 650.3 788.8)"><ellipse cx="651.3" cy="789.8" rx="6" ry="7" fill="none" stroke="#000" stroke-opacity="0.064" stroke-width="1.8"/><ellipse cx="649.7" cy="788.2" rx="6" ry="7" fill="#fff" fill-opacity="0.048" stroke="#fff" stroke-opacity="0.104" stroke-width="1.8"/></g>
<g filter="url(#bl4)" transform="rotate(0 679.7 801.4)"><ellipse cx="680.7" cy="802.4" rx="6" ry="8" fill="none" stroke="#000" stroke-opacity="0.064" stroke-width="1.8"/><ellipse cx="679.1" cy="800.8" rx="6" ry="8" fill="#fff" fill-opacity="0.048" stroke="#fff" stroke-opacity="0.104" stroke-width="1.8"/></g>
<g filter="url(#bl4)" transform="rotate(15 568.3 819.3)"><ellipse cx="569.3" cy="820.3" rx="6" ry="10" fill="none" stroke="#000" stroke-opacity="0.064" stroke-width="1.8"/><ellipse cx="567.7" cy="818.7" rx="6" ry="10" fill="#fff" fill-opacity="0.048" stroke="#fff" stroke-opacity="0.104" stroke-width="1.8"/></g>
<g filter="url(#bl4)" transform="rotate(0 608.3 831.9)"><ellipse cx="609.3" cy="832.9" rx="7" ry="9" fill="none" stroke="#000" stroke-opacity="0.064" stroke-width="1.8"/><ellipse cx="607.7" cy="831.3" rx="7" ry="9" fill="#fff" fill-opacity="0.048" stroke="#fff" stroke-opacity="0.104" stroke-width="1.8"/></g>
<g filter="url(#bl4)" transform="rotate(0 556.8 857.1)"><ellipse cx="557.8" cy="858.1" rx="9" ry="9" fill="none" stroke="#000" stroke-opacity="0.064" stroke-width="1.8"/><ellipse cx="556.2" cy="856.5" rx="9" ry="9" fill="#fff" fill-opacity="0.048" stroke="#fff" stroke-opacity="0.104" stroke-width="1.8"/></g>
<g filter="url(#bl4)" transform="rotate(0 594.6 858.2)"><ellipse cx="595.6" cy="859.2" rx="8" ry="8" fill="none" stroke="#000" stroke-opacity="0.064" stroke-width="1.8"/><ellipse cx="594.0" cy="857.6" rx="8" ry="8" fill="#fff" fill-opacity="0.048" stroke="#fff" stroke-opacity="0.104" stroke-width="1.8"/></g>
<g filter="url(#bl4)" transform="rotate(0 555.7 878.2)"><ellipse cx="556.7" cy="879.2" rx="9" ry="8" fill="none" stroke="#000" stroke-opacity="0.064" stroke-width="1.8"/><ellipse cx="555.1" cy="877.6" rx="9" ry="8" fill="#fff" fill-opacity="0.048" stroke="#fff" stroke-opacity="0.104" stroke-width="1.8"/></g>
<g filter="url(#bl4)" transform="rotate(0 655.6 877.1)"><ellipse cx="656.6" cy="878.1" rx="8" ry="9" fill="none" stroke="#000" stroke-opacity="0.064" stroke-width="1.8"/><ellipse cx="655.0" cy="876.5" rx="8" ry="9" fill="#fff" fill-opacity="0.048" stroke="#fff" stroke-opacity="0.104" stroke-width="1.8"/></g>
<g filter="url(#bl4)" transform="rotate(30 585.1 896)"><ellipse cx="586.1" cy="897.0" rx="6" ry="15" fill="none" stroke="#000" stroke-opacity="0.064" stroke-width="1.8"/><ellipse cx="584.5" cy="895.4" rx="6" ry="15" fill="#fff" fill-opacity="0.048" stroke="#fff" stroke-opacity="0.104" stroke-width="1.8"/></g>
<line x1="677.6" y1="810.9" x2="662.91" y2="800.35" stroke="#000" stroke-width="2.5"/><polygon points="655.60,795.10 666.99,796.38 660.46,805.48" fill="#000"/>
<line x1="587.2" y1="839.7" x2="573.24" y2="846.75" stroke="#000" stroke-width="2.5"/><polygon points="565.20,850.80 571.61,841.30 576.65,851.30" fill="#000"/>
<g stroke="#141414" stroke-width="1.8" fill="none"><line x1="646.9" y1="908.9" x2="681.1" y2="908.9"/><line x1="646.9" y1="904.6" x2="646.9" y2="913.1999999999999"/><line x1="681.1" y1="904.6" x2="681.1" y2="913.1999999999999"/></g><text x="663.1" y="901.5" font-size="11.3" text-anchor="middle" fill="#141414">50 μm</text>
</svg></body></html>
